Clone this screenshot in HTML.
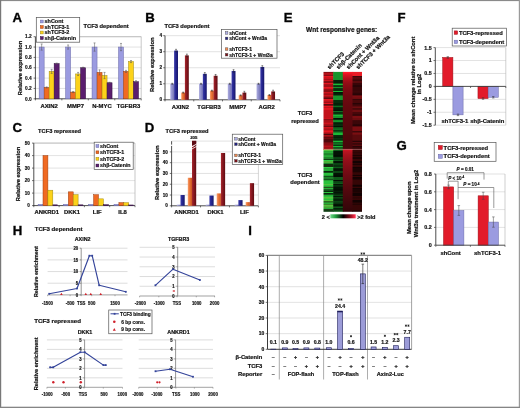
<!DOCTYPE html>
<html><head><meta charset="utf-8"><style>
html,body{margin:0;padding:0;background:#fff;}
body{width:520px;height:408px;overflow:hidden;}
svg{display:block;font-family:"Liberation Sans",sans-serif;will-change:transform;}
text{stroke:#111;}
</style></head><body>
<svg width="520" height="408" viewBox="0 0 520 408">
<rect x="0" y="0" width="520" height="408" fill="#fff"/>
<defs>
<linearGradient id="gLav" x1="0" x2="1" y1="0" y2="0"><stop offset="0" stop-color="#acacdf"/><stop offset="0.35" stop-color="#9898d2"/><stop offset="1" stop-color="#7070b2"/></linearGradient>
<linearGradient id="gNavy" x1="0" x2="1" y1="0" y2="0"><stop offset="0" stop-color="#3a3aa8"/><stop offset="0.35" stop-color="#2a2a96"/><stop offset="1" stop-color="#16166a"/></linearGradient>
<linearGradient id="gOra" x1="0" x2="1" y1="0" y2="0"><stop offset="0" stop-color="#f6a070"/><stop offset="0.35" stop-color="#ee7a3c"/><stop offset="1" stop-color="#c85420"/></linearGradient>
<linearGradient id="gDred" x1="0" x2="1" y1="0" y2="0"><stop offset="0" stop-color="#a82a30"/><stop offset="0.35" stop-color="#8e1a22"/><stop offset="1" stop-color="#5e0c12"/></linearGradient>
<linearGradient id="cbar" x1="0" x2="1"><stop offset="0" stop-color="#6fd98a"/><stop offset="0.2" stop-color="#22a040"/><stop offset="0.5" stop-color="#000"/><stop offset="0.8" stop-color="#a01020"/><stop offset="0.95" stop-color="#ff3050"/><stop offset="1" stop-color="#ffc0c8"/></linearGradient>
</defs>
<text x="12.60" y="21.70" font-size="13.2" text-anchor="start" font-weight="bold" fill="#000" stroke-width="0.35">A</text>
<text x="83.60" y="28.30" font-size="5.75" text-anchor="start" font-weight="bold" fill="#111" stroke-width="0.2">TCF3 dependent</text>
<line x1="35.40" y1="88.45" x2="141.20" y2="88.45" stroke="#cfcfcf" stroke-width="0.6"/>
<line x1="35.40" y1="78.10" x2="141.20" y2="78.10" stroke="#cfcfcf" stroke-width="0.6"/>
<line x1="35.40" y1="67.75" x2="141.20" y2="67.75" stroke="#cfcfcf" stroke-width="0.6"/>
<line x1="35.40" y1="57.40" x2="141.20" y2="57.40" stroke="#cfcfcf" stroke-width="0.6"/>
<line x1="35.40" y1="47.05" x2="141.20" y2="47.05" stroke="#cfcfcf" stroke-width="0.6"/>
<line x1="35.40" y1="36.70" x2="141.20" y2="36.70" stroke="#cfcfcf" stroke-width="0.6"/>
<line x1="141.20" y1="36.70" x2="141.20" y2="98.80" stroke="#b0b0b0" stroke-width="0.7"/>
<line x1="35.40" y1="36.70" x2="141.20" y2="36.70" stroke="#b0b0b0" stroke-width="0.7"/>
<line x1="35.40" y1="36.70" x2="35.40" y2="99.20" stroke="#3a3a3a" stroke-width="0.9"/>
<line x1="35.00" y1="98.80" x2="141.20" y2="98.80" stroke="#3a3a3a" stroke-width="0.9"/>
<line x1="33.60" y1="98.80" x2="35.40" y2="98.80" stroke="#3a3a3a" stroke-width="0.7"/>
<text x="31.70" y="100.53" font-size="4.8" text-anchor="end" font-weight="bold" fill="#111" stroke-width="0.16">0.0</text>
<line x1="33.60" y1="88.45" x2="35.40" y2="88.45" stroke="#3a3a3a" stroke-width="0.7"/>
<text x="31.70" y="90.18" font-size="4.8" text-anchor="end" font-weight="bold" fill="#111" stroke-width="0.16">0.2</text>
<line x1="33.60" y1="78.10" x2="35.40" y2="78.10" stroke="#3a3a3a" stroke-width="0.7"/>
<text x="31.70" y="79.83" font-size="4.8" text-anchor="end" font-weight="bold" fill="#111" stroke-width="0.16">0.4</text>
<line x1="33.60" y1="67.75" x2="35.40" y2="67.75" stroke="#3a3a3a" stroke-width="0.7"/>
<text x="31.70" y="69.48" font-size="4.8" text-anchor="end" font-weight="bold" fill="#111" stroke-width="0.16">0.6</text>
<line x1="33.60" y1="57.40" x2="35.40" y2="57.40" stroke="#3a3a3a" stroke-width="0.7"/>
<text x="31.70" y="59.13" font-size="4.8" text-anchor="end" font-weight="bold" fill="#111" stroke-width="0.16">0.8</text>
<line x1="33.60" y1="47.05" x2="35.40" y2="47.05" stroke="#3a3a3a" stroke-width="0.7"/>
<text x="31.70" y="48.78" font-size="4.8" text-anchor="end" font-weight="bold" fill="#111" stroke-width="0.16">1.0</text>
<line x1="33.60" y1="36.70" x2="35.40" y2="36.70" stroke="#3a3a3a" stroke-width="0.7"/>
<text x="31.70" y="38.43" font-size="4.8" text-anchor="end" font-weight="bold" fill="#111" stroke-width="0.16">1.2</text>
<line x1="35.40" y1="98.80" x2="35.40" y2="100.40" stroke="#3a3a3a" stroke-width="0.7"/>
<line x1="61.85" y1="98.80" x2="61.85" y2="100.40" stroke="#3a3a3a" stroke-width="0.7"/>
<line x1="88.30" y1="98.80" x2="88.30" y2="100.40" stroke="#3a3a3a" stroke-width="0.7"/>
<line x1="114.75" y1="98.80" x2="114.75" y2="100.40" stroke="#3a3a3a" stroke-width="0.7"/>
<line x1="141.20" y1="98.80" x2="141.20" y2="100.40" stroke="#3a3a3a" stroke-width="0.7"/>
<rect x="39.15" y="47.05" width="5.00" height="51.75" fill="#9b9be0" stroke="#6a6aa8" stroke-width="0.5"/>
<line x1="41.65" y1="50.15" x2="41.65" y2="43.95" stroke="#555" stroke-width="0.5"/>
<line x1="40.65" y1="43.95" x2="42.65" y2="43.95" stroke="#555" stroke-width="0.5"/>
<line x1="40.65" y1="50.15" x2="42.65" y2="50.15" stroke="#555" stroke-width="0.5"/>
<rect x="44.15" y="87.41" width="5.00" height="11.38" fill="#f06a22" stroke="#9a3c10" stroke-width="0.5"/>
<line x1="46.65" y1="87.93" x2="46.65" y2="86.90" stroke="#555" stroke-width="0.5"/>
<line x1="45.65" y1="86.90" x2="47.65" y2="86.90" stroke="#555" stroke-width="0.5"/>
<line x1="45.65" y1="87.93" x2="47.65" y2="87.93" stroke="#555" stroke-width="0.5"/>
<rect x="49.15" y="71.37" width="5.00" height="27.43" fill="#fcd21a" stroke="#a08a10" stroke-width="0.5"/>
<line x1="51.65" y1="73.44" x2="51.65" y2="69.30" stroke="#555" stroke-width="0.5"/>
<line x1="50.65" y1="69.30" x2="52.65" y2="69.30" stroke="#555" stroke-width="0.5"/>
<line x1="50.65" y1="73.44" x2="52.65" y2="73.44" stroke="#555" stroke-width="0.5"/>
<rect x="54.15" y="63.61" width="5.00" height="35.19" fill="#5a1d6e" stroke="#2e0a3a" stroke-width="0.5"/>
<line x1="56.65" y1="64.13" x2="56.65" y2="63.09" stroke="#555" stroke-width="0.5"/>
<line x1="55.65" y1="63.09" x2="57.65" y2="63.09" stroke="#555" stroke-width="0.5"/>
<line x1="55.65" y1="64.13" x2="57.65" y2="64.13" stroke="#555" stroke-width="0.5"/>
<rect x="65.60" y="47.05" width="5.00" height="51.75" fill="#9b9be0" stroke="#6a6aa8" stroke-width="0.5"/>
<line x1="68.10" y1="49.12" x2="68.10" y2="44.98" stroke="#555" stroke-width="0.5"/>
<line x1="67.10" y1="44.98" x2="69.10" y2="44.98" stroke="#555" stroke-width="0.5"/>
<line x1="67.10" y1="49.12" x2="69.10" y2="49.12" stroke="#555" stroke-width="0.5"/>
<rect x="70.60" y="92.07" width="5.00" height="6.73" fill="#f06a22" stroke="#9a3c10" stroke-width="0.5"/>
<line x1="73.10" y1="92.59" x2="73.10" y2="91.55" stroke="#555" stroke-width="0.5"/>
<line x1="72.10" y1="91.55" x2="74.10" y2="91.55" stroke="#555" stroke-width="0.5"/>
<line x1="72.10" y1="92.59" x2="74.10" y2="92.59" stroke="#555" stroke-width="0.5"/>
<rect x="75.60" y="73.96" width="5.00" height="24.84" fill="#fcd21a" stroke="#a08a10" stroke-width="0.5"/>
<line x1="78.10" y1="75.51" x2="78.10" y2="72.41" stroke="#555" stroke-width="0.5"/>
<line x1="77.10" y1="72.41" x2="79.10" y2="72.41" stroke="#555" stroke-width="0.5"/>
<line x1="77.10" y1="75.51" x2="79.10" y2="75.51" stroke="#555" stroke-width="0.5"/>
<rect x="80.60" y="67.75" width="5.00" height="31.05" fill="#5a1d6e" stroke="#2e0a3a" stroke-width="0.5"/>
<line x1="83.10" y1="68.27" x2="83.10" y2="67.23" stroke="#555" stroke-width="0.5"/>
<line x1="82.10" y1="67.23" x2="84.10" y2="67.23" stroke="#555" stroke-width="0.5"/>
<line x1="82.10" y1="68.27" x2="84.10" y2="68.27" stroke="#555" stroke-width="0.5"/>
<rect x="92.05" y="47.05" width="5.00" height="51.75" fill="#9b9be0" stroke="#6a6aa8" stroke-width="0.5"/>
<line x1="94.55" y1="51.19" x2="94.55" y2="42.91" stroke="#555" stroke-width="0.5"/>
<line x1="93.55" y1="42.91" x2="95.55" y2="42.91" stroke="#555" stroke-width="0.5"/>
<line x1="93.55" y1="51.19" x2="95.55" y2="51.19" stroke="#555" stroke-width="0.5"/>
<rect x="97.05" y="72.41" width="5.00" height="26.39" fill="#f06a22" stroke="#9a3c10" stroke-width="0.5"/>
<line x1="99.55" y1="75.00" x2="99.55" y2="69.82" stroke="#555" stroke-width="0.5"/>
<line x1="98.55" y1="69.82" x2="100.55" y2="69.82" stroke="#555" stroke-width="0.5"/>
<line x1="98.55" y1="75.00" x2="100.55" y2="75.00" stroke="#555" stroke-width="0.5"/>
<rect x="102.05" y="75.51" width="5.00" height="23.29" fill="#fcd21a" stroke="#a08a10" stroke-width="0.5"/>
<line x1="104.55" y1="78.62" x2="104.55" y2="72.41" stroke="#555" stroke-width="0.5"/>
<line x1="103.55" y1="72.41" x2="105.55" y2="72.41" stroke="#555" stroke-width="0.5"/>
<line x1="103.55" y1="78.62" x2="105.55" y2="78.62" stroke="#555" stroke-width="0.5"/>
<rect x="107.05" y="82.76" width="5.00" height="16.04" fill="#5a1d6e" stroke="#2e0a3a" stroke-width="0.5"/>
<line x1="109.55" y1="83.27" x2="109.55" y2="82.24" stroke="#555" stroke-width="0.5"/>
<line x1="108.55" y1="82.24" x2="110.55" y2="82.24" stroke="#555" stroke-width="0.5"/>
<line x1="108.55" y1="83.27" x2="110.55" y2="83.27" stroke="#555" stroke-width="0.5"/>
<rect x="118.50" y="47.05" width="5.00" height="51.75" fill="#9b9be0" stroke="#6a6aa8" stroke-width="0.5"/>
<line x1="121.00" y1="50.67" x2="121.00" y2="43.43" stroke="#555" stroke-width="0.5"/>
<line x1="120.00" y1="43.43" x2="122.00" y2="43.43" stroke="#555" stroke-width="0.5"/>
<line x1="120.00" y1="50.67" x2="122.00" y2="50.67" stroke="#555" stroke-width="0.5"/>
<rect x="123.50" y="71.37" width="5.00" height="27.43" fill="#f06a22" stroke="#9a3c10" stroke-width="0.5"/>
<line x1="126.00" y1="72.41" x2="126.00" y2="70.34" stroke="#555" stroke-width="0.5"/>
<line x1="125.00" y1="70.34" x2="127.00" y2="70.34" stroke="#555" stroke-width="0.5"/>
<line x1="125.00" y1="72.41" x2="127.00" y2="72.41" stroke="#555" stroke-width="0.5"/>
<rect x="128.50" y="61.54" width="5.00" height="37.26" fill="#fcd21a" stroke="#a08a10" stroke-width="0.5"/>
<line x1="131.00" y1="62.57" x2="131.00" y2="60.51" stroke="#555" stroke-width="0.5"/>
<line x1="130.00" y1="60.51" x2="132.00" y2="60.51" stroke="#555" stroke-width="0.5"/>
<line x1="130.00" y1="62.57" x2="132.00" y2="62.57" stroke="#555" stroke-width="0.5"/>
<rect x="133.50" y="81.72" width="5.00" height="17.08" fill="#5a1d6e" stroke="#2e0a3a" stroke-width="0.5"/>
<line x1="136.00" y1="82.76" x2="136.00" y2="80.69" stroke="#555" stroke-width="0.5"/>
<line x1="135.00" y1="80.69" x2="137.00" y2="80.69" stroke="#555" stroke-width="0.5"/>
<line x1="135.00" y1="82.76" x2="137.00" y2="82.76" stroke="#555" stroke-width="0.5"/>
<text x="49.12" y="108.20" font-size="5.9" text-anchor="middle" font-weight="bold" fill="#111" stroke-width="0.2">AXIN2</text>
<text x="75.57" y="108.20" font-size="5.9" text-anchor="middle" font-weight="bold" fill="#111" stroke-width="0.2">MMP7</text>
<text x="102.02" y="108.20" font-size="5.9" text-anchor="middle" font-weight="bold" fill="#111" stroke-width="0.2">N-MYC</text>
<text x="128.47" y="108.20" font-size="5.9" text-anchor="middle" font-weight="bold" fill="#111" stroke-width="0.2">TGFBR3</text>
<text x="21.70" y="68.00" font-size="5.8" text-anchor="middle" font-weight="bold" fill="#111" stroke-width="0.2" transform="rotate(-90 21.7 68)">Relative expression</text>
<rect x="36.30" y="17.60" width="43.40" height="24.60" fill="#fff" stroke="#555" stroke-width="0.7"/>
<rect x="40.40" y="20.10" width="2.80" height="2.80" fill="#9b9be0" stroke="#6a6aa8" stroke-width="0.5"/>
<text x="44.60" y="23.46" font-size="5.45" text-anchor="start" font-weight="bold" fill="#111" stroke-width="0.18">shCont</text>
<rect x="40.40" y="25.60" width="2.80" height="2.80" fill="#f06a22" stroke="#9a3c10" stroke-width="0.5"/>
<text x="44.60" y="28.96" font-size="5.45" text-anchor="start" font-weight="bold" fill="#111" stroke-width="0.18">shTCF3-1</text>
<rect x="40.40" y="31.10" width="2.80" height="2.80" fill="#fcd21a" stroke="#a08a10" stroke-width="0.5"/>
<text x="44.60" y="34.46" font-size="5.45" text-anchor="start" font-weight="bold" fill="#111" stroke-width="0.18">shTCF3-2</text>
<rect x="40.40" y="36.70" width="2.80" height="2.80" fill="#5a1d6e" stroke="#2e0a3a" stroke-width="0.5"/>
<text x="44.60" y="40.06" font-size="5.45" text-anchor="start" font-weight="bold" fill="#111" stroke-width="0.18">sh&#946;-Catenin</text>
<text x="145.30" y="21.80" font-size="13.2" text-anchor="start" font-weight="bold" fill="#000" stroke-width="0.35">B</text>
<text x="164.40" y="28.20" font-size="5.75" text-anchor="start" font-weight="bold" fill="#111" stroke-width="0.2">TCF3 dependent</text>
<line x1="165.00" y1="83.77" x2="280.00" y2="83.77" stroke="#cfcfcf" stroke-width="0.6"/>
<line x1="165.00" y1="67.74" x2="280.00" y2="67.74" stroke="#cfcfcf" stroke-width="0.6"/>
<line x1="165.00" y1="51.71" x2="280.00" y2="51.71" stroke="#cfcfcf" stroke-width="0.6"/>
<line x1="165.00" y1="35.68" x2="280.00" y2="35.68" stroke="#cfcfcf" stroke-width="0.6"/>
<line x1="165.00" y1="35.68" x2="165.00" y2="100.20" stroke="#3a3a3a" stroke-width="0.9"/>
<line x1="164.60" y1="99.80" x2="280.00" y2="99.80" stroke="#3a3a3a" stroke-width="0.9"/>
<line x1="163.20" y1="99.80" x2="165.00" y2="99.80" stroke="#3a3a3a" stroke-width="0.7"/>
<text x="162.00" y="101.49" font-size="4.7" text-anchor="end" font-weight="bold" fill="#111" stroke-width="0.16">0</text>
<line x1="163.20" y1="83.77" x2="165.00" y2="83.77" stroke="#3a3a3a" stroke-width="0.7"/>
<text x="162.00" y="85.46" font-size="4.7" text-anchor="end" font-weight="bold" fill="#111" stroke-width="0.16">1</text>
<line x1="163.20" y1="67.74" x2="165.00" y2="67.74" stroke="#3a3a3a" stroke-width="0.7"/>
<text x="162.00" y="69.43" font-size="4.7" text-anchor="end" font-weight="bold" fill="#111" stroke-width="0.16">2</text>
<line x1="163.20" y1="51.71" x2="165.00" y2="51.71" stroke="#3a3a3a" stroke-width="0.7"/>
<text x="162.00" y="53.40" font-size="4.7" text-anchor="end" font-weight="bold" fill="#111" stroke-width="0.16">3</text>
<line x1="163.20" y1="35.68" x2="165.00" y2="35.68" stroke="#3a3a3a" stroke-width="0.7"/>
<text x="162.00" y="37.37" font-size="4.7" text-anchor="end" font-weight="bold" fill="#111" stroke-width="0.16">4</text>
<line x1="165.00" y1="99.80" x2="165.00" y2="101.40" stroke="#3a3a3a" stroke-width="0.7"/>
<line x1="193.75" y1="99.80" x2="193.75" y2="101.40" stroke="#3a3a3a" stroke-width="0.7"/>
<line x1="222.50" y1="99.80" x2="222.50" y2="101.40" stroke="#3a3a3a" stroke-width="0.7"/>
<line x1="251.25" y1="99.80" x2="251.25" y2="101.40" stroke="#3a3a3a" stroke-width="0.7"/>
<line x1="280.00" y1="99.80" x2="280.00" y2="101.40" stroke="#3a3a3a" stroke-width="0.7"/>
<rect x="170.30" y="83.77" width="3.90" height="16.03" fill="url(#gLav)"/>
<line x1="172.25" y1="84.25" x2="172.25" y2="83.29" stroke="#222" stroke-width="0.5"/>
<line x1="171.35" y1="83.29" x2="173.15" y2="83.29" stroke="#222" stroke-width="0.5"/>
<line x1="171.35" y1="84.25" x2="173.15" y2="84.25" stroke="#222" stroke-width="0.5"/>
<rect x="174.10" y="50.59" width="3.90" height="49.21" fill="url(#gNavy)"/>
<line x1="176.05" y1="51.87" x2="176.05" y2="49.31" stroke="#222" stroke-width="0.5"/>
<line x1="175.15" y1="49.31" x2="176.95" y2="49.31" stroke="#222" stroke-width="0.5"/>
<line x1="175.15" y1="51.87" x2="176.95" y2="51.87" stroke="#222" stroke-width="0.5"/>
<rect x="181.20" y="92.59" width="3.90" height="7.21" fill="url(#gOra)"/>
<line x1="183.15" y1="93.07" x2="183.15" y2="92.11" stroke="#222" stroke-width="0.5"/>
<line x1="182.25" y1="92.11" x2="184.05" y2="92.11" stroke="#222" stroke-width="0.5"/>
<line x1="182.25" y1="93.07" x2="184.05" y2="93.07" stroke="#222" stroke-width="0.5"/>
<rect x="184.90" y="55.40" width="3.90" height="44.40" fill="url(#gDred)"/>
<line x1="186.85" y1="56.68" x2="186.85" y2="54.11" stroke="#222" stroke-width="0.5"/>
<line x1="185.95" y1="54.11" x2="187.75" y2="54.11" stroke="#222" stroke-width="0.5"/>
<line x1="185.95" y1="56.68" x2="187.75" y2="56.68" stroke="#222" stroke-width="0.5"/>
<rect x="199.05" y="83.77" width="3.90" height="16.03" fill="url(#gLav)"/>
<line x1="201.00" y1="84.25" x2="201.00" y2="83.29" stroke="#222" stroke-width="0.5"/>
<line x1="200.10" y1="83.29" x2="201.90" y2="83.29" stroke="#222" stroke-width="0.5"/>
<line x1="200.10" y1="84.25" x2="201.90" y2="84.25" stroke="#222" stroke-width="0.5"/>
<rect x="202.85" y="73.83" width="3.90" height="25.97" fill="url(#gNavy)"/>
<line x1="204.80" y1="75.11" x2="204.80" y2="72.55" stroke="#222" stroke-width="0.5"/>
<line x1="203.90" y1="72.55" x2="205.70" y2="72.55" stroke="#222" stroke-width="0.5"/>
<line x1="203.90" y1="75.11" x2="205.70" y2="75.11" stroke="#222" stroke-width="0.5"/>
<rect x="209.95" y="90.66" width="3.90" height="9.14" fill="url(#gOra)"/>
<line x1="211.90" y1="91.14" x2="211.90" y2="90.18" stroke="#222" stroke-width="0.5"/>
<line x1="211.00" y1="90.18" x2="212.80" y2="90.18" stroke="#222" stroke-width="0.5"/>
<line x1="211.00" y1="91.14" x2="212.80" y2="91.14" stroke="#222" stroke-width="0.5"/>
<rect x="213.65" y="75.75" width="3.90" height="24.05" fill="url(#gDred)"/>
<line x1="215.60" y1="77.04" x2="215.60" y2="74.47" stroke="#222" stroke-width="0.5"/>
<line x1="214.70" y1="74.47" x2="216.50" y2="74.47" stroke="#222" stroke-width="0.5"/>
<line x1="214.70" y1="77.04" x2="216.50" y2="77.04" stroke="#222" stroke-width="0.5"/>
<rect x="227.80" y="83.77" width="3.90" height="16.03" fill="url(#gLav)"/>
<line x1="229.75" y1="84.25" x2="229.75" y2="83.29" stroke="#222" stroke-width="0.5"/>
<line x1="228.85" y1="83.29" x2="230.65" y2="83.29" stroke="#222" stroke-width="0.5"/>
<line x1="228.85" y1="84.25" x2="230.65" y2="84.25" stroke="#222" stroke-width="0.5"/>
<rect x="231.60" y="70.95" width="3.90" height="28.85" fill="url(#gNavy)"/>
<line x1="233.55" y1="72.23" x2="233.55" y2="69.66" stroke="#222" stroke-width="0.5"/>
<line x1="232.65" y1="69.66" x2="234.45" y2="69.66" stroke="#222" stroke-width="0.5"/>
<line x1="232.65" y1="72.23" x2="234.45" y2="72.23" stroke="#222" stroke-width="0.5"/>
<rect x="238.70" y="95.31" width="3.90" height="4.49" fill="url(#gOra)"/>
<line x1="240.65" y1="95.79" x2="240.65" y2="94.83" stroke="#222" stroke-width="0.5"/>
<line x1="239.75" y1="94.83" x2="241.55" y2="94.83" stroke="#222" stroke-width="0.5"/>
<line x1="239.75" y1="95.79" x2="241.55" y2="95.79" stroke="#222" stroke-width="0.5"/>
<rect x="242.40" y="92.59" width="3.90" height="7.21" fill="url(#gDred)"/>
<line x1="244.35" y1="93.87" x2="244.35" y2="91.30" stroke="#222" stroke-width="0.5"/>
<line x1="243.45" y1="91.30" x2="245.25" y2="91.30" stroke="#222" stroke-width="0.5"/>
<line x1="243.45" y1="93.87" x2="245.25" y2="93.87" stroke="#222" stroke-width="0.5"/>
<rect x="256.55" y="83.77" width="3.90" height="16.03" fill="url(#gLav)"/>
<line x1="258.50" y1="84.25" x2="258.50" y2="83.29" stroke="#222" stroke-width="0.5"/>
<line x1="257.60" y1="83.29" x2="259.40" y2="83.29" stroke="#222" stroke-width="0.5"/>
<line x1="257.60" y1="84.25" x2="259.40" y2="84.25" stroke="#222" stroke-width="0.5"/>
<rect x="260.35" y="66.94" width="3.90" height="32.86" fill="url(#gNavy)"/>
<line x1="262.30" y1="68.22" x2="262.30" y2="65.66" stroke="#222" stroke-width="0.5"/>
<line x1="261.40" y1="65.66" x2="263.20" y2="65.66" stroke="#222" stroke-width="0.5"/>
<line x1="261.40" y1="68.22" x2="263.20" y2="68.22" stroke="#222" stroke-width="0.5"/>
<rect x="267.45" y="94.99" width="3.90" height="4.81" fill="url(#gOra)"/>
<line x1="269.40" y1="95.47" x2="269.40" y2="94.51" stroke="#222" stroke-width="0.5"/>
<line x1="268.50" y1="94.51" x2="270.30" y2="94.51" stroke="#222" stroke-width="0.5"/>
<line x1="268.50" y1="95.47" x2="270.30" y2="95.47" stroke="#222" stroke-width="0.5"/>
<rect x="271.15" y="91.46" width="3.90" height="8.34" fill="url(#gDred)"/>
<line x1="273.10" y1="92.75" x2="273.10" y2="90.18" stroke="#222" stroke-width="0.5"/>
<line x1="272.20" y1="90.18" x2="274.00" y2="90.18" stroke="#222" stroke-width="0.5"/>
<line x1="272.20" y1="92.75" x2="274.00" y2="92.75" stroke="#222" stroke-width="0.5"/>
<text x="180.38" y="108.60" font-size="5.9" text-anchor="middle" font-weight="bold" fill="#111" stroke-width="0.2">AXIN2</text>
<text x="209.12" y="108.60" font-size="5.9" text-anchor="middle" font-weight="bold" fill="#111" stroke-width="0.2">TGFBR3</text>
<text x="237.88" y="108.60" font-size="5.9" text-anchor="middle" font-weight="bold" fill="#111" stroke-width="0.2">MMP7</text>
<text x="266.62" y="108.60" font-size="5.9" text-anchor="middle" font-weight="bold" fill="#111" stroke-width="0.2">AGR2</text>
<text x="154.30" y="64.70" font-size="5.8" text-anchor="middle" font-weight="bold" fill="#111" stroke-width="0.2" transform="rotate(-90 154.3 64.7)">Relative expression</text>
<rect x="221.50" y="29.50" width="55.50" height="28.70" fill="#fff" stroke="#555" stroke-width="0.7"/>
<rect x="225.30" y="31.60" width="2.60" height="2.60" fill="#b0b0e6" stroke="#444" stroke-width="0.4"/>
<text x="229.20" y="34.70" font-size="5.0" text-anchor="start" font-weight="bold" fill="#111" stroke-width="0.18">shCont</text>
<rect x="225.30" y="37.10" width="2.60" height="2.60" fill="#22227e" stroke="#444" stroke-width="0.4"/>
<text x="229.20" y="40.20" font-size="5.0" text-anchor="start" font-weight="bold" fill="#111" stroke-width="0.18">shCont + Wnt3a</text>
<rect x="225.30" y="47.80" width="2.60" height="2.60" fill="#f08a50" stroke="#444" stroke-width="0.4"/>
<text x="229.20" y="50.90" font-size="5.0" text-anchor="start" font-weight="bold" fill="#111" stroke-width="0.18">shTCF3-1</text>
<rect x="225.30" y="53.40" width="2.60" height="2.60" fill="#7a1018" stroke="#444" stroke-width="0.4"/>
<text x="229.20" y="56.50" font-size="5.0" text-anchor="start" font-weight="bold" fill="#111" stroke-width="0.18">shTCF3-1 + Wnt3a</text>
<text x="12.40" y="132.20" font-size="13.2" text-anchor="start" font-weight="bold" fill="#000" stroke-width="0.35">C</text>
<text x="38.10" y="132.90" font-size="5.7" text-anchor="start" font-weight="bold" fill="#111" stroke-width="0.2">TCF3 repressed</text>
<line x1="33.80" y1="193.10" x2="135.00" y2="193.10" stroke="#cfcfcf" stroke-width="0.6"/>
<line x1="33.80" y1="180.60" x2="135.00" y2="180.60" stroke="#cfcfcf" stroke-width="0.6"/>
<line x1="33.80" y1="168.10" x2="135.00" y2="168.10" stroke="#cfcfcf" stroke-width="0.6"/>
<line x1="33.80" y1="155.60" x2="135.00" y2="155.60" stroke="#cfcfcf" stroke-width="0.6"/>
<line x1="33.80" y1="143.10" x2="135.00" y2="143.10" stroke="#cfcfcf" stroke-width="0.6"/>
<line x1="135.00" y1="143.10" x2="135.00" y2="205.60" stroke="#b0b0b0" stroke-width="0.7"/>
<line x1="33.80" y1="143.10" x2="135.00" y2="143.10" stroke="#b0b0b0" stroke-width="0.7"/>
<line x1="33.80" y1="143.10" x2="33.80" y2="206.00" stroke="#3a3a3a" stroke-width="0.9"/>
<line x1="33.40" y1="205.60" x2="135.00" y2="205.60" stroke="#3a3a3a" stroke-width="0.9"/>
<line x1="32.00" y1="205.60" x2="33.80" y2="205.60" stroke="#3a3a3a" stroke-width="0.7"/>
<text x="29.80" y="207.26" font-size="4.6" text-anchor="end" font-weight="bold" fill="#111" stroke-width="0.16">0</text>
<line x1="32.00" y1="193.10" x2="33.80" y2="193.10" stroke="#3a3a3a" stroke-width="0.7"/>
<text x="29.80" y="194.76" font-size="4.6" text-anchor="end" font-weight="bold" fill="#111" stroke-width="0.16">10</text>
<line x1="32.00" y1="180.60" x2="33.80" y2="180.60" stroke="#3a3a3a" stroke-width="0.7"/>
<text x="29.80" y="182.26" font-size="4.6" text-anchor="end" font-weight="bold" fill="#111" stroke-width="0.16">20</text>
<line x1="32.00" y1="168.10" x2="33.80" y2="168.10" stroke="#3a3a3a" stroke-width="0.7"/>
<text x="29.80" y="169.76" font-size="4.6" text-anchor="end" font-weight="bold" fill="#111" stroke-width="0.16">30</text>
<line x1="32.00" y1="155.60" x2="33.80" y2="155.60" stroke="#3a3a3a" stroke-width="0.7"/>
<text x="29.80" y="157.26" font-size="4.6" text-anchor="end" font-weight="bold" fill="#111" stroke-width="0.16">40</text>
<line x1="32.00" y1="143.10" x2="33.80" y2="143.10" stroke="#3a3a3a" stroke-width="0.7"/>
<text x="29.80" y="144.76" font-size="4.6" text-anchor="end" font-weight="bold" fill="#111" stroke-width="0.16">50</text>
<line x1="33.80" y1="205.60" x2="33.80" y2="207.20" stroke="#3a3a3a" stroke-width="0.7"/>
<line x1="59.10" y1="205.60" x2="59.10" y2="207.20" stroke="#3a3a3a" stroke-width="0.7"/>
<line x1="84.40" y1="205.60" x2="84.40" y2="207.20" stroke="#3a3a3a" stroke-width="0.7"/>
<line x1="109.70" y1="205.60" x2="109.70" y2="207.20" stroke="#3a3a3a" stroke-width="0.7"/>
<line x1="135.00" y1="205.60" x2="135.00" y2="207.20" stroke="#3a3a3a" stroke-width="0.7"/>
<rect x="38.10" y="204.35" width="4.90" height="1.25" fill="#9b9be0" stroke="#6a6aa8" stroke-width="0.5"/>
<rect x="43.00" y="155.60" width="4.90" height="50.00" fill="#f06a22" stroke="#9a3c10" stroke-width="0.5"/>
<rect x="47.90" y="190.22" width="4.90" height="15.38" fill="#fcd21a" stroke="#a08a10" stroke-width="0.5"/>
<rect x="52.80" y="204.85" width="4.90" height="0.75" fill="#5a1d6e" stroke="#2e0a3a" stroke-width="0.5"/>
<rect x="63.40" y="204.35" width="4.90" height="1.25" fill="#9b9be0" stroke="#6a6aa8" stroke-width="0.5"/>
<rect x="68.30" y="191.85" width="4.90" height="13.75" fill="#f06a22" stroke="#9a3c10" stroke-width="0.5"/>
<rect x="73.20" y="194.72" width="4.90" height="10.88" fill="#fcd21a" stroke="#a08a10" stroke-width="0.5"/>
<rect x="78.10" y="204.85" width="4.90" height="0.75" fill="#5a1d6e" stroke="#2e0a3a" stroke-width="0.5"/>
<rect x="88.70" y="204.35" width="4.90" height="1.25" fill="#9b9be0" stroke="#6a6aa8" stroke-width="0.5"/>
<rect x="93.60" y="194.72" width="4.90" height="10.88" fill="#f06a22" stroke="#9a3c10" stroke-width="0.5"/>
<rect x="98.50" y="198.85" width="4.90" height="6.75" fill="#fcd21a" stroke="#a08a10" stroke-width="0.5"/>
<rect x="103.40" y="204.72" width="4.90" height="0.88" fill="#5a1d6e" stroke="#2e0a3a" stroke-width="0.5"/>
<rect x="114.00" y="204.35" width="4.90" height="1.25" fill="#9b9be0" stroke="#6a6aa8" stroke-width="0.5"/>
<rect x="118.90" y="202.60" width="4.90" height="3.00" fill="#f06a22" stroke="#9a3c10" stroke-width="0.5"/>
<rect x="123.80" y="202.72" width="4.90" height="2.88" fill="#fcd21a" stroke="#a08a10" stroke-width="0.5"/>
<rect x="128.70" y="204.97" width="4.90" height="0.62" fill="#5a1d6e" stroke="#2e0a3a" stroke-width="0.5"/>
<text x="46.65" y="214.10" font-size="5.9" text-anchor="middle" font-weight="bold" fill="#111" stroke-width="0.2">ANKRD1</text>
<text x="71.95" y="214.10" font-size="5.9" text-anchor="middle" font-weight="bold" fill="#111" stroke-width="0.2">DKK1</text>
<text x="97.25" y="214.10" font-size="5.9" text-anchor="middle" font-weight="bold" fill="#111" stroke-width="0.2">LIF</text>
<text x="122.55" y="214.10" font-size="5.9" text-anchor="middle" font-weight="bold" fill="#111" stroke-width="0.2">IL8</text>
<text x="19.80" y="174.00" font-size="5.8" text-anchor="middle" font-weight="bold" fill="#111" stroke-width="0.2" transform="rotate(-90 19.8 174)">Relative expression</text>
<rect x="94.20" y="142.20" width="39.00" height="27.40" fill="#fff" stroke="#555" stroke-width="0.7"/>
<rect x="96.00" y="144.70" width="2.80" height="2.80" fill="#9b9be0" stroke="#6a6aa8" stroke-width="0.5"/>
<text x="100.00" y="148.01" font-size="5.3" text-anchor="start" font-weight="bold" fill="#111" stroke-width="0.18">shCont</text>
<rect x="96.00" y="150.90" width="2.80" height="2.80" fill="#f06a22" stroke="#9a3c10" stroke-width="0.5"/>
<text x="100.00" y="154.21" font-size="5.3" text-anchor="start" font-weight="bold" fill="#111" stroke-width="0.18">shTCF3-1</text>
<rect x="96.00" y="157.40" width="2.80" height="2.80" fill="#fcd21a" stroke="#a08a10" stroke-width="0.5"/>
<text x="100.00" y="160.71" font-size="5.3" text-anchor="start" font-weight="bold" fill="#111" stroke-width="0.18">shTCF3-2</text>
<rect x="96.00" y="164.10" width="2.80" height="2.80" fill="#5a1d6e" stroke="#2e0a3a" stroke-width="0.5"/>
<text x="100.00" y="167.41" font-size="5.3" text-anchor="start" font-weight="bold" fill="#111" stroke-width="0.18">sh&#946;-Catenin</text>
<text x="144.80" y="132.10" font-size="13.2" text-anchor="start" font-weight="bold" fill="#000" stroke-width="0.35">D</text>
<text x="165.60" y="132.60" font-size="5.7" text-anchor="start" font-weight="bold" fill="#111" stroke-width="0.2">TCF3 repressed</text>
<line x1="171.60" y1="195.02" x2="258.40" y2="195.02" stroke="#cfcfcf" stroke-width="0.6"/>
<line x1="171.60" y1="184.24" x2="258.40" y2="184.24" stroke="#cfcfcf" stroke-width="0.6"/>
<line x1="171.60" y1="173.46" x2="258.40" y2="173.46" stroke="#cfcfcf" stroke-width="0.6"/>
<line x1="171.60" y1="162.68" x2="258.40" y2="162.68" stroke="#cfcfcf" stroke-width="0.6"/>
<line x1="171.60" y1="151.90" x2="258.40" y2="151.90" stroke="#cfcfcf" stroke-width="0.6"/>
<line x1="171.60" y1="141.10" x2="171.60" y2="206.20" stroke="#3a3a3a" stroke-width="0.9"/>
<line x1="171.20" y1="205.80" x2="258.40" y2="205.80" stroke="#3a3a3a" stroke-width="0.9"/>
<line x1="169.80" y1="205.80" x2="171.60" y2="205.80" stroke="#3a3a3a" stroke-width="0.7"/>
<text x="167.80" y="207.46" font-size="4.6" text-anchor="end" font-weight="bold" fill="#111" stroke-width="0.16">0</text>
<line x1="169.80" y1="195.02" x2="171.60" y2="195.02" stroke="#3a3a3a" stroke-width="0.7"/>
<text x="167.80" y="196.68" font-size="4.6" text-anchor="end" font-weight="bold" fill="#111" stroke-width="0.16">10</text>
<line x1="169.80" y1="184.24" x2="171.60" y2="184.24" stroke="#3a3a3a" stroke-width="0.7"/>
<text x="167.80" y="185.90" font-size="4.6" text-anchor="end" font-weight="bold" fill="#111" stroke-width="0.16">20</text>
<line x1="169.80" y1="173.46" x2="171.60" y2="173.46" stroke="#3a3a3a" stroke-width="0.7"/>
<text x="167.80" y="175.12" font-size="4.6" text-anchor="end" font-weight="bold" fill="#111" stroke-width="0.16">30</text>
<line x1="169.80" y1="162.68" x2="171.60" y2="162.68" stroke="#3a3a3a" stroke-width="0.7"/>
<text x="167.80" y="164.34" font-size="4.6" text-anchor="end" font-weight="bold" fill="#111" stroke-width="0.16">40</text>
<line x1="169.80" y1="151.90" x2="171.60" y2="151.90" stroke="#3a3a3a" stroke-width="0.7"/>
<text x="167.80" y="153.56" font-size="4.6" text-anchor="end" font-weight="bold" fill="#111" stroke-width="0.16">50</text>
<line x1="171.60" y1="205.80" x2="171.60" y2="207.40" stroke="#3a3a3a" stroke-width="0.7"/>
<line x1="200.53" y1="205.80" x2="200.53" y2="207.40" stroke="#3a3a3a" stroke-width="0.7"/>
<line x1="229.47" y1="205.80" x2="229.47" y2="207.40" stroke="#3a3a3a" stroke-width="0.7"/>
<line x1="258.40" y1="205.80" x2="258.40" y2="207.40" stroke="#3a3a3a" stroke-width="0.7"/>
<line x1="171.60" y1="141.10" x2="258.40" y2="141.10" stroke="#cfcfcf" stroke-width="0.6"/>
<rect x="170.40" y="144.60" width="2.40" height="1.30" fill="#fff"/>
<line x1="258.40" y1="141.00" x2="258.40" y2="205.80" stroke="#b8b8b8" stroke-width="0.6"/>
<rect x="176.80" y="204.72" width="3.70" height="1.08" fill="url(#gLav)"/>
<rect x="180.50" y="195.02" width="4.20" height="10.78" fill="url(#gNavy)"/>
<rect x="187.80" y="177.77" width="4.20" height="28.03" fill="url(#gOra)"/>
<rect x="192.00" y="140.80" width="4.20" height="65.00" fill="url(#gDred)"/>
<rect x="205.73" y="204.72" width="3.70" height="1.08" fill="url(#gLav)"/>
<rect x="209.43" y="195.56" width="4.20" height="10.24" fill="url(#gNavy)"/>
<rect x="216.73" y="193.40" width="4.20" height="12.40" fill="url(#gOra)"/>
<rect x="220.93" y="152.98" width="4.20" height="52.82" fill="url(#gDred)"/>
<rect x="234.67" y="204.72" width="3.70" height="1.08" fill="url(#gLav)"/>
<rect x="238.37" y="200.09" width="4.20" height="5.71" fill="url(#gNavy)"/>
<rect x="245.67" y="202.13" width="4.20" height="3.67" fill="url(#gOra)"/>
<rect x="249.87" y="183.16" width="4.20" height="22.64" fill="url(#gDred)"/>
<path d="M191.40 147.0 L196.80 143.9 M191.40 149.3 L196.80 146.2" stroke="#fff" stroke-width="0.8" fill="none"/>
<rect x="192.00" y="140.90" width="4.20" height="4.50" fill="#5e0c14"/>
<path d="M191.40 147.0 L196.80 143.9" stroke="#fff" stroke-width="0.8" fill="none"/>
<text x="193.80" y="138.90" font-size="4.3" text-anchor="middle" font-weight="bold" fill="#111" stroke-width="0.16">205</text>
<text x="186.57" y="213.80" font-size="5.9" text-anchor="middle" font-weight="bold" fill="#111" stroke-width="0.2">ANKRD1</text>
<text x="215.50" y="213.80" font-size="5.9" text-anchor="middle" font-weight="bold" fill="#111" stroke-width="0.2">DKK1</text>
<text x="244.43" y="213.80" font-size="5.9" text-anchor="middle" font-weight="bold" fill="#111" stroke-width="0.2">LIF</text>
<text x="158.80" y="172.70" font-size="5.8" text-anchor="middle" font-weight="bold" fill="#111" stroke-width="0.2" transform="rotate(-90 158.8 172.7)">Relative expression</text>
<rect x="232.30" y="134.20" width="50.40" height="30.20" fill="#fff" stroke="#555" stroke-width="0.7"/>
<rect x="234.60" y="137.50" width="2.60" height="2.60" fill="#b0b0e6" stroke="#444" stroke-width="0.4"/>
<text x="238.20" y="140.60" font-size="5.0" text-anchor="start" font-weight="bold" fill="#111" stroke-width="0.18">shCont</text>
<rect x="234.60" y="142.90" width="2.60" height="2.60" fill="#22227e" stroke="#444" stroke-width="0.4"/>
<text x="238.20" y="146.00" font-size="5.0" text-anchor="start" font-weight="bold" fill="#111" stroke-width="0.18">shCont + Wnt3a</text>
<rect x="234.60" y="154.10" width="2.60" height="2.60" fill="#f08a50" stroke="#444" stroke-width="0.4"/>
<text x="238.20" y="157.20" font-size="5.0" text-anchor="start" font-weight="bold" fill="#111" stroke-width="0.18">shTCF3-1</text>
<rect x="234.60" y="159.50" width="2.60" height="2.60" fill="#7a1018" stroke="#444" stroke-width="0.4"/>
<text x="238.20" y="162.60" font-size="5.0" text-anchor="start" font-weight="bold" fill="#111" stroke-width="0.18">shTCF3-1 + Wnt3a</text>
<text x="283.80" y="21.80" font-size="13.2" text-anchor="start" font-weight="bold" fill="#000" stroke-width="0.35">E</text>
<text x="306.10" y="32.30" font-size="6.5" text-anchor="start" font-weight="bold" fill="#111" stroke-width="0.2">Wnt responsive genes:</text>
<defs><linearGradient id="hm1" x1="0" x2="0" y1="0" y2="1"><stop offset="0.0021" stop-color="#8a0d13"/><stop offset="0.0152" stop-color="#8a0d13"/><stop offset="0.0193" stop-color="#b81119"/><stop offset="0.0324" stop-color="#b81119"/><stop offset="0.0366" stop-color="#8a0d13"/><stop offset="0.0497" stop-color="#8a0d13"/><stop offset="0.0538" stop-color="#e61620"/><stop offset="0.0669" stop-color="#e61620"/><stop offset="0.0710" stop-color="#cf131c"/><stop offset="0.0841" stop-color="#cf131c"/><stop offset="0.0883" stop-color="#ac1018"/><stop offset="0.1014" stop-color="#ac1018"/><stop offset="0.1055" stop-color="#cf131c"/><stop offset="0.1186" stop-color="#cf131c"/><stop offset="0.1228" stop-color="#8a0d13"/><stop offset="0.1359" stop-color="#8a0d13"/><stop offset="0.1400" stop-color="#e61620"/><stop offset="0.1531" stop-color="#e61620"/><stop offset="0.1572" stop-color="#ac1018"/><stop offset="0.1703" stop-color="#ac1018"/><stop offset="0.1745" stop-color="#a10f16"/><stop offset="0.1876" stop-color="#a10f16"/><stop offset="0.1917" stop-color="#e61620"/><stop offset="0.2048" stop-color="#e61620"/><stop offset="0.2090" stop-color="#cf131c"/><stop offset="0.2221" stop-color="#cf131c"/><stop offset="0.2262" stop-color="#8a0d13"/><stop offset="0.2393" stop-color="#8a0d13"/><stop offset="0.2434" stop-color="#8a0d13"/><stop offset="0.2566" stop-color="#8a0d13"/><stop offset="0.2607" stop-color="#cf131c"/><stop offset="0.2738" stop-color="#cf131c"/><stop offset="0.2779" stop-color="#a10f16"/><stop offset="0.2910" stop-color="#a10f16"/><stop offset="0.2952" stop-color="#cf131c"/><stop offset="0.3083" stop-color="#cf131c"/><stop offset="0.3124" stop-color="#ac1018"/><stop offset="0.3255" stop-color="#ac1018"/><stop offset="0.3297" stop-color="#60090d"/><stop offset="0.3428" stop-color="#60090d"/><stop offset="0.3469" stop-color="#e61620"/><stop offset="0.3600" stop-color="#e61620"/><stop offset="0.3641" stop-color="#cf131c"/><stop offset="0.3772" stop-color="#cf131c"/><stop offset="0.3814" stop-color="#a10f16"/><stop offset="0.3945" stop-color="#a10f16"/><stop offset="0.3986" stop-color="#e61620"/><stop offset="0.4117" stop-color="#e61620"/><stop offset="0.4159" stop-color="#60090d"/><stop offset="0.4290" stop-color="#60090d"/><stop offset="0.4331" stop-color="#e61620"/><stop offset="0.4462" stop-color="#e61620"/><stop offset="0.4503" stop-color="#c3121b"/><stop offset="0.4634" stop-color="#c3121b"/><stop offset="0.4676" stop-color="#e61620"/><stop offset="0.4807" stop-color="#e61620"/><stop offset="0.4848" stop-color="#c3121b"/><stop offset="0.4979" stop-color="#c3121b"/><stop offset="0.5021" stop-color="#c3121b"/><stop offset="0.5152" stop-color="#c3121b"/><stop offset="0.5193" stop-color="#c3121b"/><stop offset="0.5324" stop-color="#c3121b"/><stop offset="0.5366" stop-color="#c3121b"/><stop offset="0.5497" stop-color="#c3121b"/><stop offset="0.5538" stop-color="#c3121b"/><stop offset="0.5669" stop-color="#c3121b"/><stop offset="0.5710" stop-color="#c3121b"/><stop offset="0.5841" stop-color="#c3121b"/><stop offset="0.5883" stop-color="#cf131c"/><stop offset="0.6014" stop-color="#cf131c"/><stop offset="0.6055" stop-color="#8a0d13"/><stop offset="0.6186" stop-color="#8a0d13"/><stop offset="0.6228" stop-color="#ac1018"/><stop offset="0.6359" stop-color="#ac1018"/><stop offset="0.6400" stop-color="#b81119"/><stop offset="0.6531" stop-color="#b81119"/><stop offset="0.6572" stop-color="#cf131c"/><stop offset="0.6703" stop-color="#cf131c"/><stop offset="0.6745" stop-color="#a10f16"/><stop offset="0.6876" stop-color="#a10f16"/><stop offset="0.6917" stop-color="#730b10"/><stop offset="0.7048" stop-color="#730b10"/><stop offset="0.7090" stop-color="#cf131c"/><stop offset="0.7221" stop-color="#cf131c"/><stop offset="0.7262" stop-color="#ac1018"/><stop offset="0.7393" stop-color="#ac1018"/><stop offset="0.7434" stop-color="#cf131c"/><stop offset="0.7566" stop-color="#cf131c"/><stop offset="0.7607" stop-color="#e61620"/><stop offset="0.7738" stop-color="#e61620"/><stop offset="0.7779" stop-color="#a10f16"/><stop offset="0.7910" stop-color="#a10f16"/><stop offset="0.7952" stop-color="#50070b"/><stop offset="0.8083" stop-color="#50070b"/><stop offset="0.8124" stop-color="#ac1018"/><stop offset="0.8255" stop-color="#ac1018"/><stop offset="0.8297" stop-color="#60090d"/><stop offset="0.8428" stop-color="#60090d"/><stop offset="0.8469" stop-color="#730b10"/><stop offset="0.8600" stop-color="#730b10"/><stop offset="0.8641" stop-color="#50070b"/><stop offset="0.8772" stop-color="#50070b"/><stop offset="0.8814" stop-color="#50070b"/><stop offset="0.8945" stop-color="#50070b"/><stop offset="0.8986" stop-color="#730b10"/><stop offset="0.9117" stop-color="#730b10"/><stop offset="0.9159" stop-color="#8a0d13"/><stop offset="0.9290" stop-color="#8a0d13"/><stop offset="0.9331" stop-color="#a10f16"/><stop offset="0.9462" stop-color="#a10f16"/><stop offset="0.9503" stop-color="#b81119"/><stop offset="0.9634" stop-color="#b81119"/><stop offset="0.9676" stop-color="#a10f16"/><stop offset="0.9807" stop-color="#a10f16"/><stop offset="0.9848" stop-color="#cf131c"/><stop offset="0.9979" stop-color="#cf131c"/></linearGradient></defs>
<rect x="323.50" y="71.90" width="10.30" height="78.10" fill="url(#hm1)"/>
<defs><linearGradient id="hm2" x1="0" x2="0" y1="0" y2="1"><stop offset="0.0021" stop-color="#16942c"/><stop offset="0.0152" stop-color="#16942c"/><stop offset="0.0193" stop-color="#16942c"/><stop offset="0.0324" stop-color="#16942c"/><stop offset="0.0366" stop-color="#16942c"/><stop offset="0.0497" stop-color="#16942c"/><stop offset="0.0538" stop-color="#16942c"/><stop offset="0.0669" stop-color="#16942c"/><stop offset="0.0710" stop-color="#16942c"/><stop offset="0.0841" stop-color="#16942c"/><stop offset="0.0883" stop-color="#16942c"/><stop offset="0.1014" stop-color="#16942c"/><stop offset="0.1055" stop-color="#052109"/><stop offset="0.1186" stop-color="#052109"/><stop offset="0.1228" stop-color="#052109"/><stop offset="0.1359" stop-color="#052109"/><stop offset="0.1400" stop-color="#0e5c1b"/><stop offset="0.1531" stop-color="#0e5c1b"/><stop offset="0.1572" stop-color="#1cb937"/><stop offset="0.1703" stop-color="#1cb937"/><stop offset="0.1745" stop-color="#083710"/><stop offset="0.1876" stop-color="#083710"/><stop offset="0.1917" stop-color="#16942c"/><stop offset="0.2048" stop-color="#16942c"/><stop offset="0.2090" stop-color="#083710"/><stop offset="0.2221" stop-color="#083710"/><stop offset="0.2262" stop-color="#072e0d"/><stop offset="0.2393" stop-color="#072e0d"/><stop offset="0.2434" stop-color="#1cb937"/><stop offset="0.2566" stop-color="#1cb937"/><stop offset="0.2607" stop-color="#021205"/><stop offset="0.2738" stop-color="#021205"/><stop offset="0.2779" stop-color="#052109"/><stop offset="0.2910" stop-color="#052109"/><stop offset="0.2952" stop-color="#0e5c1b"/><stop offset="0.3083" stop-color="#0e5c1b"/><stop offset="0.3124" stop-color="#16942c"/><stop offset="0.3255" stop-color="#16942c"/><stop offset="0.3297" stop-color="#16942c"/><stop offset="0.3428" stop-color="#16942c"/><stop offset="0.3469" stop-color="#16942c"/><stop offset="0.3600" stop-color="#16942c"/><stop offset="0.3641" stop-color="#072e0d"/><stop offset="0.3772" stop-color="#072e0d"/><stop offset="0.3814" stop-color="#072e0d"/><stop offset="0.3945" stop-color="#072e0d"/><stop offset="0.3986" stop-color="#052109"/><stop offset="0.4117" stop-color="#052109"/><stop offset="0.4159" stop-color="#052109"/><stop offset="0.4290" stop-color="#052109"/><stop offset="0.4331" stop-color="#106f21"/><stop offset="0.4462" stop-color="#106f21"/><stop offset="0.4503" stop-color="#072e0d"/><stop offset="0.4634" stop-color="#072e0d"/><stop offset="0.4676" stop-color="#052109"/><stop offset="0.4807" stop-color="#052109"/><stop offset="0.4848" stop-color="#021205"/><stop offset="0.4979" stop-color="#021205"/><stop offset="0.5021" stop-color="#106f21"/><stop offset="0.5152" stop-color="#106f21"/><stop offset="0.5193" stop-color="#072e0d"/><stop offset="0.5324" stop-color="#072e0d"/><stop offset="0.5366" stop-color="#106f21"/><stop offset="0.5497" stop-color="#106f21"/><stop offset="0.5538" stop-color="#1cb937"/><stop offset="0.5669" stop-color="#1cb937"/><stop offset="0.5710" stop-color="#16942c"/><stop offset="0.5841" stop-color="#16942c"/><stop offset="0.5883" stop-color="#021205"/><stop offset="0.6014" stop-color="#021205"/><stop offset="0.6055" stop-color="#072e0d"/><stop offset="0.6186" stop-color="#072e0d"/><stop offset="0.6228" stop-color="#16942c"/><stop offset="0.6359" stop-color="#16942c"/><stop offset="0.6400" stop-color="#083710"/><stop offset="0.6531" stop-color="#083710"/><stop offset="0.6572" stop-color="#052109"/><stop offset="0.6703" stop-color="#052109"/><stop offset="0.6745" stop-color="#072e0d"/><stop offset="0.6876" stop-color="#072e0d"/><stop offset="0.6917" stop-color="#021205"/><stop offset="0.7048" stop-color="#021205"/><stop offset="0.7090" stop-color="#0c5318"/><stop offset="0.7221" stop-color="#0c5318"/><stop offset="0.7262" stop-color="#106f21"/><stop offset="0.7393" stop-color="#106f21"/><stop offset="0.7434" stop-color="#083710"/><stop offset="0.7566" stop-color="#083710"/><stop offset="0.7607" stop-color="#0c5318"/><stop offset="0.7738" stop-color="#0c5318"/><stop offset="0.7779" stop-color="#1cb937"/><stop offset="0.7910" stop-color="#1cb937"/><stop offset="0.7952" stop-color="#1cb937"/><stop offset="0.8083" stop-color="#1cb937"/><stop offset="0.8124" stop-color="#072e0d"/><stop offset="0.8255" stop-color="#072e0d"/><stop offset="0.8297" stop-color="#052109"/><stop offset="0.8428" stop-color="#052109"/><stop offset="0.8469" stop-color="#083710"/><stop offset="0.8600" stop-color="#083710"/><stop offset="0.8641" stop-color="#072e0d"/><stop offset="0.8772" stop-color="#072e0d"/><stop offset="0.8814" stop-color="#1cb937"/><stop offset="0.8945" stop-color="#1cb937"/><stop offset="0.8986" stop-color="#0e5c1b"/><stop offset="0.9117" stop-color="#0e5c1b"/><stop offset="0.9159" stop-color="#106f21"/><stop offset="0.9290" stop-color="#106f21"/><stop offset="0.9331" stop-color="#083710"/><stop offset="0.9462" stop-color="#083710"/><stop offset="0.9503" stop-color="#1cb937"/><stop offset="0.9634" stop-color="#1cb937"/><stop offset="0.9676" stop-color="#0e5c1b"/><stop offset="0.9807" stop-color="#0e5c1b"/><stop offset="0.9848" stop-color="#106f21"/><stop offset="0.9979" stop-color="#106f21"/></linearGradient></defs>
<rect x="333.20" y="71.90" width="10.20" height="78.10" fill="url(#hm2)"/>
<defs><linearGradient id="hm3" x1="0" x2="0" y1="0" y2="1"><stop offset="0.0086" stop-color="#ff1626"/><stop offset="0.0259" stop-color="#e81422"/><stop offset="0.0431" stop-color="#d5121f"/><stop offset="0.0603" stop-color="#c6111d"/><stop offset="0.0776" stop-color="#b80f1b"/><stop offset="0.0948" stop-color="#ad0e19"/><stop offset="0.1121" stop-color="#a30e18"/><stop offset="0.1293" stop-color="#9a0d17"/><stop offset="0.1466" stop-color="#930c16"/><stop offset="0.1638" stop-color="#8d0c15"/><stop offset="0.1810" stop-color="#880b14"/><stop offset="0.1983" stop-color="#830b13"/><stop offset="0.2155" stop-color="#7f0b13"/><stop offset="0.2328" stop-color="#7c0a12"/><stop offset="0.2500" stop-color="#790a12"/><stop offset="0.2672" stop-color="#760a11"/><stop offset="0.2845" stop-color="#740a11"/><stop offset="0.3017" stop-color="#710910"/><stop offset="0.3190" stop-color="#6f0910"/><stop offset="0.3362" stop-color="#6e0910"/><stop offset="0.3534" stop-color="#6c0910"/><stop offset="0.3707" stop-color="#6a090f"/><stop offset="0.3879" stop-color="#69090f"/><stop offset="0.4052" stop-color="#68080f"/><stop offset="0.4224" stop-color="#66080f"/><stop offset="0.4397" stop-color="#65080f"/><stop offset="0.4569" stop-color="#64080e"/><stop offset="0.4741" stop-color="#63080e"/><stop offset="0.4914" stop-color="#62080e"/><stop offset="0.5086" stop-color="#61080e"/><stop offset="0.5259" stop-color="#60080e"/><stop offset="0.5431" stop-color="#5f080e"/><stop offset="0.5603" stop-color="#5e080e"/><stop offset="0.5776" stop-color="#5d080d"/><stop offset="0.5948" stop-color="#5c070d"/><stop offset="0.6121" stop-color="#5b070d"/><stop offset="0.6293" stop-color="#5a070d"/><stop offset="0.6466" stop-color="#59070d"/><stop offset="0.6638" stop-color="#58070d"/><stop offset="0.6810" stop-color="#57070d"/><stop offset="0.6983" stop-color="#56070c"/><stop offset="0.7155" stop-color="#55070c"/><stop offset="0.7328" stop-color="#54070c"/><stop offset="0.7500" stop-color="#53070c"/><stop offset="0.7672" stop-color="#53070c"/><stop offset="0.7845" stop-color="#52070c"/><stop offset="0.8017" stop-color="#51070c"/><stop offset="0.8190" stop-color="#50060b"/><stop offset="0.8362" stop-color="#4f060b"/><stop offset="0.8534" stop-color="#4e060b"/><stop offset="0.8707" stop-color="#4d060b"/><stop offset="0.8879" stop-color="#4c060b"/><stop offset="0.9052" stop-color="#4b060b"/><stop offset="0.9224" stop-color="#4a060b"/><stop offset="0.9397" stop-color="#4a060b"/><stop offset="0.9569" stop-color="#49060a"/><stop offset="0.9741" stop-color="#48060a"/><stop offset="0.9914" stop-color="#47060a"/></linearGradient></defs>
<rect x="342.80" y="71.90" width="10.30" height="78.10" fill="url(#hm3)"/>
<defs><linearGradient id="hm4" x1="0" x2="0" y1="0" y2="1"><stop offset="0.0021" stop-color="#eb1c26"/><stop offset="0.0152" stop-color="#eb1c26"/><stop offset="0.0193" stop-color="#eb1c26"/><stop offset="0.0324" stop-color="#eb1c26"/><stop offset="0.0366" stop-color="#eb1c26"/><stop offset="0.0497" stop-color="#eb1c26"/><stop offset="0.0538" stop-color="#3c0709"/><stop offset="0.0669" stop-color="#3c0709"/><stop offset="0.0710" stop-color="#5a0a0d"/><stop offset="0.0841" stop-color="#5a0a0d"/><stop offset="0.0883" stop-color="#48080a"/><stop offset="0.1014" stop-color="#48080a"/><stop offset="0.1055" stop-color="#3c0709"/><stop offset="0.1186" stop-color="#3c0709"/><stop offset="0.1228" stop-color="#5a0a0d"/><stop offset="0.1359" stop-color="#5a0a0d"/><stop offset="0.1400" stop-color="#380608"/><stop offset="0.1531" stop-color="#380608"/><stop offset="0.1572" stop-color="#380608"/><stop offset="0.1703" stop-color="#380608"/><stop offset="0.1745" stop-color="#280406"/><stop offset="0.1876" stop-color="#280406"/><stop offset="0.1917" stop-color="#380608"/><stop offset="0.2048" stop-color="#380608"/><stop offset="0.2090" stop-color="#380608"/><stop offset="0.2221" stop-color="#380608"/><stop offset="0.2262" stop-color="#380608"/><stop offset="0.2393" stop-color="#380608"/><stop offset="0.2434" stop-color="#3c0709"/><stop offset="0.2566" stop-color="#3c0709"/><stop offset="0.2607" stop-color="#380608"/><stop offset="0.2738" stop-color="#380608"/><stop offset="0.2779" stop-color="#280406"/><stop offset="0.2910" stop-color="#280406"/><stop offset="0.2952" stop-color="#5a0a0d"/><stop offset="0.3083" stop-color="#5a0a0d"/><stop offset="0.3124" stop-color="#7c0e12"/><stop offset="0.3255" stop-color="#7c0e12"/><stop offset="0.3297" stop-color="#6e0d10"/><stop offset="0.3428" stop-color="#6e0d10"/><stop offset="0.3469" stop-color="#380608"/><stop offset="0.3600" stop-color="#380608"/><stop offset="0.3641" stop-color="#48080a"/><stop offset="0.3772" stop-color="#48080a"/><stop offset="0.3814" stop-color="#48080a"/><stop offset="0.3945" stop-color="#48080a"/><stop offset="0.3986" stop-color="#280406"/><stop offset="0.4117" stop-color="#280406"/><stop offset="0.4159" stop-color="#380608"/><stop offset="0.4290" stop-color="#380608"/><stop offset="0.4331" stop-color="#5a0a0d"/><stop offset="0.4462" stop-color="#5a0a0d"/><stop offset="0.4503" stop-color="#6e0d10"/><stop offset="0.4634" stop-color="#6e0d10"/><stop offset="0.4676" stop-color="#48080a"/><stop offset="0.4807" stop-color="#48080a"/><stop offset="0.4848" stop-color="#6e0d10"/><stop offset="0.4979" stop-color="#6e0d10"/><stop offset="0.5021" stop-color="#6e0d10"/><stop offset="0.5152" stop-color="#6e0d10"/><stop offset="0.5193" stop-color="#48080a"/><stop offset="0.5324" stop-color="#48080a"/><stop offset="0.5366" stop-color="#380608"/><stop offset="0.5497" stop-color="#380608"/><stop offset="0.5538" stop-color="#3c0709"/><stop offset="0.5669" stop-color="#3c0709"/><stop offset="0.5710" stop-color="#7c0e12"/><stop offset="0.5841" stop-color="#7c0e12"/><stop offset="0.5883" stop-color="#6e0d10"/><stop offset="0.6014" stop-color="#6e0d10"/><stop offset="0.6055" stop-color="#6e0d10"/><stop offset="0.6186" stop-color="#6e0d10"/><stop offset="0.6228" stop-color="#3c0709"/><stop offset="0.6359" stop-color="#3c0709"/><stop offset="0.6400" stop-color="#3c0709"/><stop offset="0.6531" stop-color="#3c0709"/><stop offset="0.6572" stop-color="#3c0709"/><stop offset="0.6703" stop-color="#3c0709"/><stop offset="0.6745" stop-color="#280406"/><stop offset="0.6876" stop-color="#280406"/><stop offset="0.6917" stop-color="#5a0a0d"/><stop offset="0.7048" stop-color="#5a0a0d"/><stop offset="0.7090" stop-color="#7c0e12"/><stop offset="0.7221" stop-color="#7c0e12"/><stop offset="0.7262" stop-color="#7c0e12"/><stop offset="0.7393" stop-color="#7c0e12"/><stop offset="0.7434" stop-color="#7c0e12"/><stop offset="0.7566" stop-color="#7c0e12"/><stop offset="0.7607" stop-color="#3c0709"/><stop offset="0.7738" stop-color="#3c0709"/><stop offset="0.7779" stop-color="#7c0e12"/><stop offset="0.7910" stop-color="#7c0e12"/><stop offset="0.7952" stop-color="#6e0d10"/><stop offset="0.8083" stop-color="#6e0d10"/><stop offset="0.8124" stop-color="#5a0a0d"/><stop offset="0.8255" stop-color="#5a0a0d"/><stop offset="0.8297" stop-color="#5a0a0d"/><stop offset="0.8428" stop-color="#5a0a0d"/><stop offset="0.8469" stop-color="#5a0a0d"/><stop offset="0.8600" stop-color="#5a0a0d"/><stop offset="0.8641" stop-color="#5a0a0d"/><stop offset="0.8772" stop-color="#5a0a0d"/><stop offset="0.8814" stop-color="#280406"/><stop offset="0.8945" stop-color="#280406"/><stop offset="0.8986" stop-color="#5a0a0d"/><stop offset="0.9117" stop-color="#5a0a0d"/><stop offset="0.9159" stop-color="#3c0709"/><stop offset="0.9290" stop-color="#3c0709"/><stop offset="0.9331" stop-color="#5a0a0d"/><stop offset="0.9462" stop-color="#5a0a0d"/><stop offset="0.9503" stop-color="#280406"/><stop offset="0.9634" stop-color="#280406"/><stop offset="0.9676" stop-color="#380608"/><stop offset="0.9807" stop-color="#380608"/><stop offset="0.9848" stop-color="#280406"/><stop offset="0.9979" stop-color="#280406"/></linearGradient></defs>
<rect x="352.50" y="71.90" width="9.50" height="78.10" fill="url(#hm4)"/>
<defs><linearGradient id="hm5" x1="0" x2="0" y1="0" y2="1"><stop offset="0.0026" stop-color="#55c23d"/><stop offset="0.0187" stop-color="#55c23d"/><stop offset="0.0238" stop-color="#24a434"/><stop offset="0.0400" stop-color="#24a434"/><stop offset="0.0451" stop-color="#26ae37"/><stop offset="0.0613" stop-color="#26ae37"/><stop offset="0.0664" stop-color="#1d852a"/><stop offset="0.0826" stop-color="#1d852a"/><stop offset="0.0877" stop-color="#24a434"/><stop offset="0.1038" stop-color="#24a434"/><stop offset="0.1089" stop-color="#26ae37"/><stop offset="0.1251" stop-color="#26ae37"/><stop offset="0.1302" stop-color="#1d852a"/><stop offset="0.1464" stop-color="#1d852a"/><stop offset="0.1515" stop-color="#0d3d13"/><stop offset="0.1677" stop-color="#0d3d13"/><stop offset="0.1728" stop-color="#2dcd41"/><stop offset="0.1889" stop-color="#2dcd41"/><stop offset="0.1940" stop-color="#4cae37"/><stop offset="0.2102" stop-color="#4cae37"/><stop offset="0.2153" stop-color="#1d852a"/><stop offset="0.2315" stop-color="#1d852a"/><stop offset="0.2366" stop-color="#12290d"/><stop offset="0.2528" stop-color="#12290d"/><stop offset="0.2579" stop-color="#12290d"/><stop offset="0.2740" stop-color="#12290d"/><stop offset="0.2791" stop-color="#2dcd41"/><stop offset="0.2953" stop-color="#2dcd41"/><stop offset="0.3004" stop-color="#24a434"/><stop offset="0.3166" stop-color="#24a434"/><stop offset="0.3217" stop-color="#26ae37"/><stop offset="0.3379" stop-color="#26ae37"/><stop offset="0.3430" stop-color="#09290d"/><stop offset="0.3591" stop-color="#09290d"/><stop offset="0.3643" stop-color="#12521a"/><stop offset="0.3804" stop-color="#12521a"/><stop offset="0.3855" stop-color="#2ac23d"/><stop offset="0.4017" stop-color="#2ac23d"/><stop offset="0.4068" stop-color="#24a434"/><stop offset="0.4230" stop-color="#24a434"/><stop offset="0.4281" stop-color="#12521a"/><stop offset="0.4443" stop-color="#12521a"/><stop offset="0.4494" stop-color="#1d852a"/><stop offset="0.4655" stop-color="#1d852a"/><stop offset="0.4706" stop-color="#12521a"/><stop offset="0.4868" stop-color="#12521a"/><stop offset="0.4919" stop-color="#24a434"/><stop offset="0.5081" stop-color="#24a434"/><stop offset="0.5132" stop-color="#2ac23d"/><stop offset="0.5294" stop-color="#2ac23d"/><stop offset="0.5345" stop-color="#2ac23d"/><stop offset="0.5506" stop-color="#2ac23d"/><stop offset="0.5557" stop-color="#55c23d"/><stop offset="0.5719" stop-color="#55c23d"/><stop offset="0.5770" stop-color="#2ac23d"/><stop offset="0.5932" stop-color="#2ac23d"/><stop offset="0.5983" stop-color="#24521a"/><stop offset="0.6145" stop-color="#24521a"/><stop offset="0.6196" stop-color="#26ae37"/><stop offset="0.6357" stop-color="#26ae37"/><stop offset="0.6409" stop-color="#166620"/><stop offset="0.6570" stop-color="#166620"/><stop offset="0.6621" stop-color="#09290d"/><stop offset="0.6783" stop-color="#09290d"/><stop offset="0.6834" stop-color="#2ac23d"/><stop offset="0.6996" stop-color="#2ac23d"/><stop offset="0.7047" stop-color="#09290d"/><stop offset="0.7209" stop-color="#09290d"/><stop offset="0.7260" stop-color="#26ae37"/><stop offset="0.7421" stop-color="#26ae37"/><stop offset="0.7472" stop-color="#2ac23d"/><stop offset="0.7634" stop-color="#2ac23d"/><stop offset="0.7685" stop-color="#55c23d"/><stop offset="0.7847" stop-color="#55c23d"/><stop offset="0.7898" stop-color="#2ac23d"/><stop offset="0.8060" stop-color="#2ac23d"/><stop offset="0.8111" stop-color="#55c23d"/><stop offset="0.8272" stop-color="#55c23d"/><stop offset="0.8323" stop-color="#2d6620"/><stop offset="0.8485" stop-color="#2d6620"/><stop offset="0.8536" stop-color="#26ae37"/><stop offset="0.8698" stop-color="#26ae37"/><stop offset="0.8749" stop-color="#3a852a"/><stop offset="0.8911" stop-color="#3a852a"/><stop offset="0.8962" stop-color="#55c23d"/><stop offset="0.9123" stop-color="#55c23d"/><stop offset="0.9174" stop-color="#48a434"/><stop offset="0.9336" stop-color="#48a434"/><stop offset="0.9387" stop-color="#26ae37"/><stop offset="0.9549" stop-color="#26ae37"/><stop offset="0.9600" stop-color="#1b3d13"/><stop offset="0.9762" stop-color="#1b3d13"/><stop offset="0.9813" stop-color="#0d3d13"/><stop offset="0.9974" stop-color="#0d3d13"/></linearGradient></defs>
<rect x="323.50" y="149.40" width="10.30" height="62.40" fill="url(#hm5)"/>
<defs><linearGradient id="hm6" x1="0" x2="0" y1="0" y2="1"><stop offset="0.0026" stop-color="#0f5a1a"/><stop offset="0.0187" stop-color="#0f5a1a"/><stop offset="0.0238" stop-color="#031305"/><stop offset="0.0400" stop-color="#031305"/><stop offset="0.0451" stop-color="#031305"/><stop offset="0.0613" stop-color="#031305"/><stop offset="0.0664" stop-color="#031305"/><stop offset="0.0826" stop-color="#031305"/><stop offset="0.0877" stop-color="#020d03"/><stop offset="0.1038" stop-color="#020d03"/><stop offset="0.1089" stop-color="#031305"/><stop offset="0.1251" stop-color="#031305"/><stop offset="0.1302" stop-color="#0b4514"/><stop offset="0.1464" stop-color="#0b4514"/><stop offset="0.1515" stop-color="#08310e"/><stop offset="0.1677" stop-color="#08310e"/><stop offset="0.1728" stop-color="#0f5a1a"/><stop offset="0.1889" stop-color="#0f5a1a"/><stop offset="0.1940" stop-color="#031305"/><stop offset="0.2102" stop-color="#031305"/><stop offset="0.2153" stop-color="#0b4514"/><stop offset="0.2315" stop-color="#0b4514"/><stop offset="0.2366" stop-color="#0b4514"/><stop offset="0.2528" stop-color="#0b4514"/><stop offset="0.2579" stop-color="#08310e"/><stop offset="0.2740" stop-color="#08310e"/><stop offset="0.2791" stop-color="#0f5a1a"/><stop offset="0.2953" stop-color="#0f5a1a"/><stop offset="0.3004" stop-color="#052109"/><stop offset="0.3166" stop-color="#052109"/><stop offset="0.3217" stop-color="#031305"/><stop offset="0.3379" stop-color="#031305"/><stop offset="0.3430" stop-color="#0b4514"/><stop offset="0.3591" stop-color="#0b4514"/><stop offset="0.3643" stop-color="#0b4514"/><stop offset="0.3804" stop-color="#0b4514"/><stop offset="0.3855" stop-color="#031305"/><stop offset="0.4017" stop-color="#031305"/><stop offset="0.4068" stop-color="#020d03"/><stop offset="0.4230" stop-color="#020d03"/><stop offset="0.4281" stop-color="#020d03"/><stop offset="0.4443" stop-color="#020d03"/><stop offset="0.4494" stop-color="#0f5a1a"/><stop offset="0.4655" stop-color="#0f5a1a"/><stop offset="0.4706" stop-color="#0f5a1a"/><stop offset="0.4868" stop-color="#0f5a1a"/><stop offset="0.4919" stop-color="#020d03"/><stop offset="0.5081" stop-color="#020d03"/><stop offset="0.5132" stop-color="#0b4514"/><stop offset="0.5294" stop-color="#0b4514"/><stop offset="0.5345" stop-color="#0f5a1a"/><stop offset="0.5506" stop-color="#0f5a1a"/><stop offset="0.5557" stop-color="#031305"/><stop offset="0.5719" stop-color="#031305"/><stop offset="0.5770" stop-color="#08310e"/><stop offset="0.5932" stop-color="#08310e"/><stop offset="0.5983" stop-color="#031305"/><stop offset="0.6145" stop-color="#031305"/><stop offset="0.6196" stop-color="#031305"/><stop offset="0.6357" stop-color="#031305"/><stop offset="0.6409" stop-color="#020d03"/><stop offset="0.6570" stop-color="#020d03"/><stop offset="0.6621" stop-color="#052109"/><stop offset="0.6783" stop-color="#052109"/><stop offset="0.6834" stop-color="#031305"/><stop offset="0.6996" stop-color="#031305"/><stop offset="0.7047" stop-color="#052109"/><stop offset="0.7209" stop-color="#052109"/><stop offset="0.7260" stop-color="#0b4514"/><stop offset="0.7421" stop-color="#0b4514"/><stop offset="0.7472" stop-color="#031305"/><stop offset="0.7634" stop-color="#031305"/><stop offset="0.7685" stop-color="#0b4514"/><stop offset="0.7847" stop-color="#0b4514"/><stop offset="0.7898" stop-color="#052109"/><stop offset="0.8060" stop-color="#052109"/><stop offset="0.8111" stop-color="#052109"/><stop offset="0.8272" stop-color="#052109"/><stop offset="0.8323" stop-color="#0b4514"/><stop offset="0.8485" stop-color="#0b4514"/><stop offset="0.8536" stop-color="#08310e"/><stop offset="0.8698" stop-color="#08310e"/><stop offset="0.8749" stop-color="#031305"/><stop offset="0.8911" stop-color="#031305"/><stop offset="0.8962" stop-color="#020d03"/><stop offset="0.9123" stop-color="#020d03"/><stop offset="0.9174" stop-color="#0f5a1a"/><stop offset="0.9336" stop-color="#0f5a1a"/><stop offset="0.9387" stop-color="#052109"/><stop offset="0.9549" stop-color="#052109"/><stop offset="0.9600" stop-color="#08310e"/><stop offset="0.9762" stop-color="#08310e"/><stop offset="0.9813" stop-color="#0f5a1a"/><stop offset="0.9974" stop-color="#0f5a1a"/></linearGradient></defs>
<rect x="333.20" y="149.40" width="10.20" height="62.40" fill="url(#hm6)"/>
<defs><linearGradient id="hm7" x1="0" x2="0" y1="0" y2="1"><stop offset="0.0106" stop-color="#ce1624"/><stop offset="0.0319" stop-color="#bb1321"/><stop offset="0.0532" stop-color="#b31320"/><stop offset="0.0745" stop-color="#ac121e"/><stop offset="0.0957" stop-color="#a6111d"/><stop offset="0.1170" stop-color="#a1111c"/><stop offset="0.1383" stop-color="#9c101b"/><stop offset="0.1596" stop-color="#97101b"/><stop offset="0.1809" stop-color="#930f1a"/><stop offset="0.2021" stop-color="#8f0f19"/><stop offset="0.2234" stop-color="#8b0e18"/><stop offset="0.2447" stop-color="#880e18"/><stop offset="0.2660" stop-color="#840e17"/><stop offset="0.2872" stop-color="#810d17"/><stop offset="0.3085" stop-color="#7e0d16"/><stop offset="0.3298" stop-color="#7b0d15"/><stop offset="0.3511" stop-color="#780c15"/><stop offset="0.3723" stop-color="#750c14"/><stop offset="0.3936" stop-color="#720c14"/><stop offset="0.4149" stop-color="#6f0b13"/><stop offset="0.4362" stop-color="#6c0b13"/><stop offset="0.4574" stop-color="#6a0b12"/><stop offset="0.4787" stop-color="#670b12"/><stop offset="0.5000" stop-color="#640a12"/><stop offset="0.5213" stop-color="#620a11"/><stop offset="0.5426" stop-color="#5f0a11"/><stop offset="0.5638" stop-color="#5d0910"/><stop offset="0.5851" stop-color="#5b0910"/><stop offset="0.6064" stop-color="#58090f"/><stop offset="0.6277" stop-color="#56090f"/><stop offset="0.6489" stop-color="#54080f"/><stop offset="0.6702" stop-color="#51080e"/><stop offset="0.6915" stop-color="#4f080e"/><stop offset="0.7128" stop-color="#4d080d"/><stop offset="0.7340" stop-color="#4b080d"/><stop offset="0.7553" stop-color="#49070d"/><stop offset="0.7766" stop-color="#47070c"/><stop offset="0.7979" stop-color="#45070c"/><stop offset="0.8191" stop-color="#43070c"/><stop offset="0.8404" stop-color="#41060b"/><stop offset="0.8617" stop-color="#3f060b"/><stop offset="0.8830" stop-color="#3d060a"/><stop offset="0.9043" stop-color="#3b060a"/><stop offset="0.9255" stop-color="#39060a"/><stop offset="0.9468" stop-color="#370509"/><stop offset="0.9681" stop-color="#350509"/><stop offset="0.9894" stop-color="#330509"/></linearGradient></defs>
<rect x="342.80" y="149.40" width="10.30" height="62.40" fill="url(#hm7)"/>
<defs><linearGradient id="hm8" x1="0" x2="0" y1="0" y2="1"><stop offset="0.0026" stop-color="#360606"/><stop offset="0.0187" stop-color="#360606"/><stop offset="0.0238" stop-color="#360606"/><stop offset="0.0400" stop-color="#360606"/><stop offset="0.0451" stop-color="#2d0505"/><stop offset="0.0613" stop-color="#2d0505"/><stop offset="0.0664" stop-color="#360606"/><stop offset="0.0826" stop-color="#360606"/><stop offset="0.0877" stop-color="#1b0303"/><stop offset="0.1038" stop-color="#1b0303"/><stop offset="0.1089" stop-color="#360606"/><stop offset="0.1251" stop-color="#360606"/><stop offset="0.1302" stop-color="#1b0303"/><stop offset="0.1464" stop-color="#1b0303"/><stop offset="0.1515" stop-color="#360606"/><stop offset="0.1677" stop-color="#360606"/><stop offset="0.1728" stop-color="#360606"/><stop offset="0.1889" stop-color="#360606"/><stop offset="0.1940" stop-color="#120202"/><stop offset="0.2102" stop-color="#120202"/><stop offset="0.2153" stop-color="#2d0505"/><stop offset="0.2315" stop-color="#2d0505"/><stop offset="0.2366" stop-color="#1b0303"/><stop offset="0.2528" stop-color="#1b0303"/><stop offset="0.2579" stop-color="#360606"/><stop offset="0.2740" stop-color="#360606"/><stop offset="0.2791" stop-color="#120202"/><stop offset="0.2953" stop-color="#120202"/><stop offset="0.3004" stop-color="#1b0303"/><stop offset="0.3166" stop-color="#1b0303"/><stop offset="0.3217" stop-color="#1b0303"/><stop offset="0.3379" stop-color="#1b0303"/><stop offset="0.3430" stop-color="#1b0303"/><stop offset="0.3591" stop-color="#1b0303"/><stop offset="0.3643" stop-color="#2d0505"/><stop offset="0.3804" stop-color="#2d0505"/><stop offset="0.3855" stop-color="#360606"/><stop offset="0.4017" stop-color="#360606"/><stop offset="0.4068" stop-color="#120202"/><stop offset="0.4230" stop-color="#120202"/><stop offset="0.4281" stop-color="#360606"/><stop offset="0.4443" stop-color="#360606"/><stop offset="0.4494" stop-color="#120202"/><stop offset="0.4655" stop-color="#120202"/><stop offset="0.4706" stop-color="#240404"/><stop offset="0.4868" stop-color="#240404"/><stop offset="0.4919" stop-color="#360606"/><stop offset="0.5081" stop-color="#360606"/><stop offset="0.5132" stop-color="#360606"/><stop offset="0.5294" stop-color="#360606"/><stop offset="0.5345" stop-color="#360606"/><stop offset="0.5506" stop-color="#360606"/><stop offset="0.5557" stop-color="#2d0505"/><stop offset="0.5719" stop-color="#2d0505"/><stop offset="0.5770" stop-color="#120202"/><stop offset="0.5932" stop-color="#120202"/><stop offset="0.5983" stop-color="#360606"/><stop offset="0.6145" stop-color="#360606"/><stop offset="0.6196" stop-color="#120202"/><stop offset="0.6357" stop-color="#120202"/><stop offset="0.6409" stop-color="#1b0303"/><stop offset="0.6570" stop-color="#1b0303"/><stop offset="0.6621" stop-color="#1b0303"/><stop offset="0.6783" stop-color="#1b0303"/><stop offset="0.6834" stop-color="#240404"/><stop offset="0.6996" stop-color="#240404"/><stop offset="0.7047" stop-color="#120202"/><stop offset="0.7209" stop-color="#120202"/><stop offset="0.7260" stop-color="#120202"/><stop offset="0.7421" stop-color="#120202"/><stop offset="0.7472" stop-color="#360606"/><stop offset="0.7634" stop-color="#360606"/><stop offset="0.7685" stop-color="#2d0505"/><stop offset="0.7847" stop-color="#2d0505"/><stop offset="0.7898" stop-color="#360606"/><stop offset="0.8060" stop-color="#360606"/><stop offset="0.8111" stop-color="#120202"/><stop offset="0.8272" stop-color="#120202"/><stop offset="0.8323" stop-color="#120202"/><stop offset="0.8485" stop-color="#120202"/><stop offset="0.8536" stop-color="#2d0505"/><stop offset="0.8698" stop-color="#2d0505"/><stop offset="0.8749" stop-color="#240404"/><stop offset="0.8911" stop-color="#240404"/><stop offset="0.8962" stop-color="#360606"/><stop offset="0.9123" stop-color="#360606"/><stop offset="0.9174" stop-color="#360606"/><stop offset="0.9336" stop-color="#360606"/><stop offset="0.9387" stop-color="#360606"/><stop offset="0.9549" stop-color="#360606"/><stop offset="0.9600" stop-color="#360606"/><stop offset="0.9762" stop-color="#360606"/><stop offset="0.9813" stop-color="#1b0303"/><stop offset="0.9974" stop-color="#1b0303"/></linearGradient></defs>
<rect x="352.50" y="149.40" width="9.50" height="62.40" fill="url(#hm8)"/>
<line x1="323.50" y1="149.40" x2="362.00" y2="149.40" stroke="#f0a0a0" stroke-width="0.5"/>
<text x="329.50" y="69.50" font-size="5.8" text-anchor="start" font-weight="bold" fill="#111" stroke-width="0.2" transform="rotate(-45 329.5 69.5)">shTCF3</text>
<text x="338.50" y="69.50" font-size="5.8" text-anchor="start" font-weight="bold" fill="#111" stroke-width="0.2" transform="rotate(-45 338.5 69.5)">sh&#946;-Catenin</text>
<text x="348.60" y="69.50" font-size="5.8" text-anchor="start" font-weight="bold" fill="#111" stroke-width="0.2" transform="rotate(-45 348.6 69.5)">shCont + Wnt3a</text>
<text x="358.20" y="69.50" font-size="5.8" text-anchor="start" font-weight="bold" fill="#111" stroke-width="0.2" transform="rotate(-45 358.2 69.5)">shTCF3 + Wnt3a</text>
<text x="305.00" y="115.00" font-size="5.8" text-anchor="middle" font-weight="bold" fill="#111" stroke-width="0.2">TCF3</text>
<text x="305.00" y="122.70" font-size="5.8" text-anchor="middle" font-weight="bold" fill="#111" stroke-width="0.2">repressed</text>
<text x="305.00" y="177.00" font-size="5.8" text-anchor="middle" font-weight="bold" fill="#111" stroke-width="0.2">TCF3</text>
<text x="305.00" y="184.30" font-size="5.8" text-anchor="middle" font-weight="bold" fill="#111" stroke-width="0.2">dependent</text>
<text x="321.80" y="218.50" font-size="5.6" text-anchor="start" font-weight="bold" fill="#111" stroke-width="0.2">2 &lt;</text>
<rect x="330.30" y="214.30" width="25.90" height="4.00" fill="url(#cbar)"/>
<text x="357.30" y="218.50" font-size="5.6" text-anchor="start" font-weight="bold" fill="#111" stroke-width="0.2">&gt;2 fold</text>
<text x="397.60" y="21.80" font-size="13.2" text-anchor="start" font-weight="bold" fill="#000" stroke-width="0.35">F</text>
<line x1="435.30" y1="47.60" x2="505.80" y2="47.60" stroke="#cfcfcf" stroke-width="0.6"/>
<line x1="435.30" y1="60.53" x2="505.80" y2="60.53" stroke="#cfcfcf" stroke-width="0.6"/>
<line x1="435.30" y1="73.47" x2="505.80" y2="73.47" stroke="#cfcfcf" stroke-width="0.6"/>
<line x1="435.30" y1="99.34" x2="505.80" y2="99.34" stroke="#cfcfcf" stroke-width="0.6"/>
<line x1="435.30" y1="112.27" x2="505.80" y2="112.27" stroke="#cfcfcf" stroke-width="0.6"/>
<line x1="435.30" y1="125.21" x2="505.80" y2="125.21" stroke="#cfcfcf" stroke-width="0.6"/>
<line x1="505.80" y1="47.60" x2="505.80" y2="125.21" stroke="#b0b0b0" stroke-width="0.6"/>
<line x1="435.30" y1="47.60" x2="435.30" y2="125.21" stroke="#3a3a3a" stroke-width="0.9"/>
<line x1="433.50" y1="47.60" x2="435.30" y2="47.60" stroke="#3a3a3a" stroke-width="0.7"/>
<text x="431.60" y="49.50" font-size="5.3" text-anchor="end" font-weight="bold" fill="#111" stroke-width="0.18">1.5</text>
<line x1="433.50" y1="60.53" x2="435.30" y2="60.53" stroke="#3a3a3a" stroke-width="0.7"/>
<text x="431.60" y="62.43" font-size="5.3" text-anchor="end" font-weight="bold" fill="#111" stroke-width="0.18">1</text>
<line x1="433.50" y1="73.47" x2="435.30" y2="73.47" stroke="#3a3a3a" stroke-width="0.7"/>
<text x="431.60" y="75.37" font-size="5.3" text-anchor="end" font-weight="bold" fill="#111" stroke-width="0.18">0.5</text>
<line x1="433.50" y1="86.40" x2="435.30" y2="86.40" stroke="#3a3a3a" stroke-width="0.7"/>
<text x="431.60" y="88.30" font-size="5.3" text-anchor="end" font-weight="bold" fill="#111" stroke-width="0.18">0</text>
<line x1="433.50" y1="99.34" x2="435.30" y2="99.34" stroke="#3a3a3a" stroke-width="0.7"/>
<text x="431.60" y="101.24" font-size="5.3" text-anchor="end" font-weight="bold" fill="#111" stroke-width="0.18">-0.5</text>
<line x1="433.50" y1="112.27" x2="435.30" y2="112.27" stroke="#3a3a3a" stroke-width="0.7"/>
<text x="431.60" y="114.17" font-size="5.3" text-anchor="end" font-weight="bold" fill="#111" stroke-width="0.18">-1</text>
<line x1="433.50" y1="125.21" x2="435.30" y2="125.21" stroke="#3a3a3a" stroke-width="0.7"/>
<text x="431.60" y="127.11" font-size="5.3" text-anchor="end" font-weight="bold" fill="#111" stroke-width="0.18">-1.5</text>
<rect x="442.70" y="57.43" width="10.20" height="28.97" fill="#e21b2a" stroke="#9a1018" stroke-width="0.5"/>
<line x1="447.80" y1="56.65" x2="447.80" y2="58.20" stroke="#333" stroke-width="0.5"/>
<line x1="446.60" y1="58.20" x2="449.00" y2="58.20" stroke="#333" stroke-width="0.5"/>
<line x1="446.60" y1="56.65" x2="449.00" y2="56.65" stroke="#333" stroke-width="0.5"/>
<rect x="452.90" y="86.40" width="10.20" height="28.46" fill="#9b9be0" stroke="#6a6aa8" stroke-width="0.5"/>
<line x1="458.00" y1="114.08" x2="458.00" y2="115.63" stroke="#333" stroke-width="0.5"/>
<line x1="456.80" y1="115.63" x2="459.20" y2="115.63" stroke="#333" stroke-width="0.5"/>
<line x1="456.80" y1="114.08" x2="459.20" y2="114.08" stroke="#333" stroke-width="0.5"/>
<rect x="477.95" y="86.40" width="10.20" height="12.16" fill="#e21b2a" stroke="#9a1018" stroke-width="0.5"/>
<line x1="483.05" y1="97.78" x2="483.05" y2="99.34" stroke="#333" stroke-width="0.5"/>
<line x1="481.85" y1="99.34" x2="484.25" y2="99.34" stroke="#333" stroke-width="0.5"/>
<line x1="481.85" y1="97.78" x2="484.25" y2="97.78" stroke="#333" stroke-width="0.5"/>
<rect x="488.15" y="86.40" width="10.20" height="10.87" fill="#9b9be0" stroke="#6a6aa8" stroke-width="0.5"/>
<line x1="493.25" y1="96.49" x2="493.25" y2="98.04" stroke="#333" stroke-width="0.5"/>
<line x1="492.05" y1="98.04" x2="494.45" y2="98.04" stroke="#333" stroke-width="0.5"/>
<line x1="492.05" y1="96.49" x2="494.45" y2="96.49" stroke="#333" stroke-width="0.5"/>
<line x1="435.30" y1="86.40" x2="505.80" y2="86.40" stroke="#3a3a3a" stroke-width="0.9"/>
<line x1="435.30" y1="86.40" x2="435.30" y2="88.00" stroke="#3a3a3a" stroke-width="0.7"/>
<line x1="470.55" y1="86.40" x2="470.55" y2="88.00" stroke="#3a3a3a" stroke-width="0.7"/>
<line x1="505.80" y1="86.40" x2="505.80" y2="88.00" stroke="#3a3a3a" stroke-width="0.7"/>
<text x="454.80" y="123.00" font-size="5.9" text-anchor="middle" font-weight="bold" fill="#111" stroke-width="0.2">shTCF3-1</text>
<text x="487.30" y="123.00" font-size="5.9" text-anchor="middle" font-weight="bold" fill="#111" stroke-width="0.2">sh&#946;-Catenin</text>
<text x="415.00" y="80.30" font-size="5.8" text-anchor="middle" font-weight="bold" fill="#111" stroke-width="0.2" transform="rotate(-90 415.0 80.3)">Mean change relative to shCont</text>
<text x="421.30" y="84.00" font-size="5.8" text-anchor="middle" font-weight="bold" fill="#111" stroke-width="0.2" transform="rotate(-90 421.3 84.0)">in Log2</text>
<rect x="452.20" y="28.20" width="54.40" height="17.80" fill="#fff" stroke="#555" stroke-width="0.7"/>
<rect x="454.20" y="30.90" width="3.40" height="3.40" fill="#e21b2a" stroke="#9a1018" stroke-width="0.5"/>
<text x="458.90" y="34.70" font-size="5.75" text-anchor="start" font-weight="bold" fill="#111" stroke-width="0.2">TCF3-repressed</text>
<rect x="454.20" y="40.20" width="3.40" height="3.40" fill="#9b9be0" stroke="#6a6aa8" stroke-width="0.5"/>
<text x="458.90" y="44.00" font-size="5.75" text-anchor="start" font-weight="bold" fill="#111" stroke-width="0.2">TCF3-dependent</text>
<text x="396.40" y="149.80" font-size="13.2" text-anchor="start" font-weight="bold" fill="#000" stroke-width="0.35">G</text>
<line x1="435.80" y1="227.40" x2="505.00" y2="227.40" stroke="#cfcfcf" stroke-width="0.6"/>
<line x1="435.80" y1="209.60" x2="505.00" y2="209.60" stroke="#cfcfcf" stroke-width="0.6"/>
<line x1="435.80" y1="191.80" x2="505.00" y2="191.80" stroke="#cfcfcf" stroke-width="0.6"/>
<line x1="435.80" y1="174.00" x2="505.00" y2="174.00" stroke="#cfcfcf" stroke-width="0.6"/>
<line x1="505.00" y1="174.00" x2="505.00" y2="245.20" stroke="#b0b0b0" stroke-width="0.6"/>
<line x1="435.80" y1="174.00" x2="435.80" y2="245.20" stroke="#3a3a3a" stroke-width="0.9"/>
<line x1="434.00" y1="245.20" x2="435.80" y2="245.20" stroke="#3a3a3a" stroke-width="0.7"/>
<text x="431.80" y="247.15" font-size="5.4" text-anchor="end" font-weight="bold" fill="#111" stroke-width="0.18">0</text>
<line x1="434.00" y1="227.40" x2="435.80" y2="227.40" stroke="#3a3a3a" stroke-width="0.7"/>
<text x="431.80" y="229.35" font-size="5.4" text-anchor="end" font-weight="bold" fill="#111" stroke-width="0.18">0.2</text>
<line x1="434.00" y1="209.60" x2="435.80" y2="209.60" stroke="#3a3a3a" stroke-width="0.7"/>
<text x="431.80" y="211.55" font-size="5.4" text-anchor="end" font-weight="bold" fill="#111" stroke-width="0.18">0.4</text>
<line x1="434.00" y1="191.80" x2="435.80" y2="191.80" stroke="#3a3a3a" stroke-width="0.7"/>
<text x="431.80" y="193.75" font-size="5.4" text-anchor="end" font-weight="bold" fill="#111" stroke-width="0.18">0.6</text>
<line x1="434.00" y1="174.00" x2="435.80" y2="174.00" stroke="#3a3a3a" stroke-width="0.7"/>
<text x="431.80" y="175.95" font-size="5.4" text-anchor="end" font-weight="bold" fill="#111" stroke-width="0.18">0.8</text>
<rect x="443.50" y="186.90" width="10.20" height="58.30" fill="#e21b2a" stroke="#9a1018" stroke-width="0.5"/>
<line x1="448.60" y1="188.68" x2="448.60" y2="185.12" stroke="#444" stroke-width="0.5"/>
<line x1="447.30" y1="185.12" x2="449.90" y2="185.12" stroke="#444" stroke-width="0.5"/>
<line x1="447.30" y1="188.68" x2="449.90" y2="188.68" stroke="#444" stroke-width="0.5"/>
<rect x="453.70" y="210.49" width="10.20" height="34.71" fill="#9b9be0" stroke="#6a6aa8" stroke-width="0.5"/>
<line x1="458.80" y1="215.38" x2="458.80" y2="205.59" stroke="#444" stroke-width="0.5"/>
<line x1="457.50" y1="205.59" x2="460.10" y2="205.59" stroke="#444" stroke-width="0.5"/>
<line x1="457.50" y1="215.38" x2="460.10" y2="215.38" stroke="#444" stroke-width="0.5"/>
<rect x="478.10" y="195.80" width="10.20" height="49.40" fill="#e21b2a" stroke="#9a1018" stroke-width="0.5"/>
<line x1="483.20" y1="199.36" x2="483.20" y2="192.24" stroke="#444" stroke-width="0.5"/>
<line x1="481.90" y1="192.24" x2="484.50" y2="192.24" stroke="#444" stroke-width="0.5"/>
<line x1="481.90" y1="199.36" x2="484.50" y2="199.36" stroke="#444" stroke-width="0.5"/>
<rect x="488.30" y="222.06" width="10.20" height="23.14" fill="#9b9be0" stroke="#6a6aa8" stroke-width="0.5"/>
<line x1="493.40" y1="227.22" x2="493.40" y2="216.90" stroke="#444" stroke-width="0.5"/>
<line x1="492.10" y1="216.90" x2="494.70" y2="216.90" stroke="#444" stroke-width="0.5"/>
<line x1="492.10" y1="227.22" x2="494.70" y2="227.22" stroke="#444" stroke-width="0.5"/>
<line x1="435.80" y1="245.20" x2="505.00" y2="245.20" stroke="#3a3a3a" stroke-width="0.9"/>
<line x1="435.80" y1="245.20" x2="435.80" y2="246.80" stroke="#3a3a3a" stroke-width="0.7"/>
<line x1="470.40" y1="245.20" x2="470.40" y2="246.80" stroke="#3a3a3a" stroke-width="0.7"/>
<line x1="505.00" y1="245.20" x2="505.00" y2="246.80" stroke="#3a3a3a" stroke-width="0.7"/>
<text x="450.60" y="255.30" font-size="5.9" text-anchor="middle" font-weight="bold" fill="#111" stroke-width="0.2">shCont</text>
<text x="487.50" y="255.30" font-size="5.9" text-anchor="middle" font-weight="bold" fill="#111" stroke-width="0.2">shTCF3-1</text>
<text x="411.20" y="207.80" font-size="5.8" text-anchor="middle" font-weight="bold" fill="#111" stroke-width="0.2" transform="rotate(-90 411.2 207.8)">Mean change upon</text>
<text x="417.60" y="203.50" font-size="5.8" text-anchor="middle" font-weight="bold" fill="#111" stroke-width="0.2" transform="rotate(-90 417.6 203.5)">Wnt3a treatment in Log2</text>
<rect x="434.20" y="142.50" width="61.80" height="18.80" fill="#fff" stroke="#555" stroke-width="0.7"/>
<rect x="438.30" y="145.50" width="4.00" height="4.00" fill="#e21b2a" stroke="#9a1018" stroke-width="0.5"/>
<text x="443.60" y="149.50" font-size="5.85" text-anchor="start" font-weight="bold" fill="#111" stroke-width="0.2">TCF3-repressed</text>
<rect x="438.30" y="154.30" width="4.00" height="4.00" fill="#9b9be0" stroke="#6a6aa8" stroke-width="0.5"/>
<text x="443.60" y="158.30" font-size="5.85" text-anchor="start" font-weight="bold" fill="#111" stroke-width="0.2">TCF3-dependent</text>
<path d="M447.2 178.6 V172.7 H484 V179.6" stroke="#555" stroke-width="0.6" fill="none"/>
<path d="M448.3 185.5 V181.2 H458.1 V199.2" stroke="#555" stroke-width="0.6" fill="none"/>
<path d="M458.1 187.5 H493.8 V208" stroke="#555" stroke-width="0.6" fill="none"/>
<text x="465.20" y="171.20" font-size="4.6" text-anchor="middle" font-weight="bold" fill="#111" stroke-width="0.16"><tspan font-style="italic">P</tspan> = 0.01</text>
<text x="448.20" y="179.80" font-size="4.6" text-anchor="start" font-weight="bold" fill="#111" stroke-width="0.16"><tspan font-style="italic">P</tspan> &lt; 10<tspan font-size="3" dy="-1.5">-4</tspan></text>
<text x="463.30" y="186.20" font-size="4.6" text-anchor="start" font-weight="bold" fill="#111" stroke-width="0.16"><tspan font-style="italic">P</tspan> = 10<tspan font-size="3" dy="-1.5">-4</tspan></text>
<text x="12.80" y="235.10" font-size="13.2" text-anchor="start" font-weight="bold" fill="#000" stroke-width="0.35">H</text>
<text x="34.70" y="230.90" font-size="6.1" text-anchor="start" font-weight="bold" fill="#111" stroke-width="0.2">TCF3 dependent</text>
<text x="34.30" y="323.30" font-size="6.2" text-anchor="start" font-weight="bold" fill="#111" stroke-width="0.2">TCF3 repressed</text>
<text x="0.00" y="0.00" font-size="5.9" text-anchor="middle" font-weight="bold" fill="#111" stroke-width="0.2" transform="translate(82.60 240.90) scale(0.91 1)">AXIN2</text>
<line x1="47.60" y1="283.22" x2="127.50" y2="283.22" stroke="#cfcfcf" stroke-width="0.7"/>
<line x1="47.60" y1="271.55" x2="127.50" y2="271.55" stroke="#cfcfcf" stroke-width="0.7"/>
<line x1="47.60" y1="259.88" x2="127.50" y2="259.88" stroke="#cfcfcf" stroke-width="0.7"/>
<line x1="47.60" y1="248.20" x2="127.50" y2="248.20" stroke="#cfcfcf" stroke-width="0.7"/>
<line x1="47.60" y1="294.90" x2="127.50" y2="294.90" stroke="#7a7a7a" stroke-width="0.7"/>
<line x1="47.60" y1="294.90" x2="47.60" y2="296.20" stroke="#7a7a7a" stroke-width="0.6"/>
<line x1="70.10" y1="294.90" x2="70.10" y2="296.20" stroke="#7a7a7a" stroke-width="0.6"/>
<line x1="81.20" y1="294.90" x2="81.20" y2="296.20" stroke="#7a7a7a" stroke-width="0.6"/>
<line x1="91.70" y1="294.90" x2="91.70" y2="296.20" stroke="#7a7a7a" stroke-width="0.6"/>
<line x1="115.00" y1="294.90" x2="115.00" y2="296.20" stroke="#7a7a7a" stroke-width="0.6"/>
<line x1="81.20" y1="248.20" x2="81.20" y2="294.90" stroke="#8a8a8a" stroke-width="0.9"/>
<line x1="79.90" y1="294.90" x2="81.20" y2="294.90" stroke="#6a6a6a" stroke-width="0.6"/>
<text x="0.00" y="0.00" font-size="4.8" text-anchor="end" font-weight="bold" fill="#111" stroke-width="0.16" transform="translate(78.10 296.65) scale(0.88 1)">0</text>
<line x1="79.90" y1="283.22" x2="81.20" y2="283.22" stroke="#6a6a6a" stroke-width="0.6"/>
<text x="0.00" y="0.00" font-size="4.8" text-anchor="end" font-weight="bold" fill="#111" stroke-width="0.16" transform="translate(78.10 284.97) scale(0.88 1)">5</text>
<line x1="79.90" y1="271.55" x2="81.20" y2="271.55" stroke="#6a6a6a" stroke-width="0.6"/>
<text x="0.00" y="0.00" font-size="4.8" text-anchor="end" font-weight="bold" fill="#111" stroke-width="0.16" transform="translate(78.10 273.30) scale(0.88 1)">10</text>
<line x1="79.90" y1="259.88" x2="81.20" y2="259.88" stroke="#6a6a6a" stroke-width="0.6"/>
<text x="0.00" y="0.00" font-size="4.8" text-anchor="end" font-weight="bold" fill="#111" stroke-width="0.16" transform="translate(78.10 261.62) scale(0.88 1)">15</text>
<line x1="79.90" y1="248.20" x2="81.20" y2="248.20" stroke="#6a6a6a" stroke-width="0.6"/>
<text x="0.00" y="0.00" font-size="4.8" text-anchor="end" font-weight="bold" fill="#111" stroke-width="0.16" transform="translate(78.10 249.95) scale(0.88 1)">20</text>
<text x="0.00" y="0.00" font-size="4.9" text-anchor="middle" font-weight="bold" fill="#111" stroke-width="0.18" transform="translate(47.50 304.85) scale(0.88 1)">-1500</text>
<text x="0.00" y="0.00" font-size="4.9" text-anchor="middle" font-weight="bold" fill="#111" stroke-width="0.18" transform="translate(70.10 304.85) scale(0.88 1)">-500</text>
<text x="0.00" y="0.00" font-size="4.9" text-anchor="middle" font-weight="bold" fill="#111" stroke-width="0.18" transform="translate(81.20 304.85) scale(0.88 1)">TSS</text>
<text x="0.00" y="0.00" font-size="4.9" text-anchor="middle" font-weight="bold" fill="#111" stroke-width="0.18" transform="translate(91.70 304.85) scale(0.88 1)">500</text>
<text x="0.00" y="0.00" font-size="4.9" text-anchor="middle" font-weight="bold" fill="#111" stroke-width="0.18" transform="translate(115.00 304.85) scale(0.88 1)">1500</text>
<path d="M49.20 293.80 L77.00 288.50 L89.40 255.70 L92.20 255.70 L99.20 285.30 L125.80 291.80" stroke="#34449a" stroke-width="1.15" fill="none" stroke-linejoin="round"/>
<rect x="48.30" y="292.90" width="1.80" height="1.80" fill="#34449a"/>
<rect x="76.10" y="287.60" width="1.80" height="1.80" fill="#34449a"/>
<rect x="88.50" y="254.80" width="1.80" height="1.80" fill="#34449a"/>
<rect x="91.30" y="254.80" width="1.80" height="1.80" fill="#34449a"/>
<rect x="98.30" y="284.40" width="1.80" height="1.80" fill="#34449a"/>
<rect x="124.90" y="290.90" width="1.80" height="1.80" fill="#34449a"/>
<path d="M60.10 295.04 L62.70 295.04 L61.40 292.70 Z" fill="#d0202a"/>
<path d="M84.50 295.04 L87.10 295.04 L85.80 292.70 Z" fill="#d0202a"/>
<path d="M89.50 295.04 L92.10 295.04 L90.80 292.70 Z" fill="#d0202a"/>
<path d="M99.40 295.04 L102.00 295.04 L100.70 292.70 Z" fill="#d0202a"/>
<text x="0.00" y="0.00" font-size="5.9" text-anchor="middle" font-weight="bold" fill="#111" stroke-width="0.2" transform="translate(178.60 240.90) scale(0.91 1)">TGFBR3</text>
<line x1="139.60" y1="286.26" x2="215.00" y2="286.26" stroke="#cfcfcf" stroke-width="0.7"/>
<line x1="139.60" y1="276.52" x2="215.00" y2="276.52" stroke="#cfcfcf" stroke-width="0.7"/>
<line x1="139.60" y1="266.78" x2="215.00" y2="266.78" stroke="#cfcfcf" stroke-width="0.7"/>
<line x1="139.60" y1="257.04" x2="215.00" y2="257.04" stroke="#cfcfcf" stroke-width="0.7"/>
<line x1="139.60" y1="247.30" x2="215.00" y2="247.30" stroke="#cfcfcf" stroke-width="0.7"/>
<line x1="139.60" y1="296.00" x2="215.00" y2="296.00" stroke="#7a7a7a" stroke-width="0.7"/>
<line x1="139.60" y1="296.00" x2="139.60" y2="297.30" stroke="#7a7a7a" stroke-width="0.6"/>
<line x1="158.80" y1="296.00" x2="158.80" y2="297.30" stroke="#7a7a7a" stroke-width="0.6"/>
<line x1="177.10" y1="296.00" x2="177.10" y2="297.30" stroke="#7a7a7a" stroke-width="0.6"/>
<line x1="196.30" y1="296.00" x2="196.30" y2="297.30" stroke="#7a7a7a" stroke-width="0.6"/>
<line x1="214.60" y1="296.00" x2="214.60" y2="297.30" stroke="#7a7a7a" stroke-width="0.6"/>
<line x1="177.70" y1="247.30" x2="177.70" y2="296.00" stroke="#8a8a8a" stroke-width="0.9"/>
<line x1="176.40" y1="296.00" x2="177.70" y2="296.00" stroke="#6a6a6a" stroke-width="0.6"/>
<text x="0.00" y="0.00" font-size="4.8" text-anchor="end" font-weight="bold" fill="#111" stroke-width="0.16" transform="translate(174.60 297.75) scale(0.88 1)">0</text>
<line x1="176.40" y1="286.26" x2="177.70" y2="286.26" stroke="#6a6a6a" stroke-width="0.6"/>
<text x="0.00" y="0.00" font-size="4.8" text-anchor="end" font-weight="bold" fill="#111" stroke-width="0.16" transform="translate(174.60 288.01) scale(0.88 1)">1</text>
<line x1="176.40" y1="276.52" x2="177.70" y2="276.52" stroke="#6a6a6a" stroke-width="0.6"/>
<text x="0.00" y="0.00" font-size="4.8" text-anchor="end" font-weight="bold" fill="#111" stroke-width="0.16" transform="translate(174.60 278.27) scale(0.88 1)">2</text>
<line x1="176.40" y1="266.78" x2="177.70" y2="266.78" stroke="#6a6a6a" stroke-width="0.6"/>
<text x="0.00" y="0.00" font-size="4.8" text-anchor="end" font-weight="bold" fill="#111" stroke-width="0.16" transform="translate(174.60 268.53) scale(0.88 1)">3</text>
<line x1="176.40" y1="257.04" x2="177.70" y2="257.04" stroke="#6a6a6a" stroke-width="0.6"/>
<text x="0.00" y="0.00" font-size="4.8" text-anchor="end" font-weight="bold" fill="#111" stroke-width="0.16" transform="translate(174.60 258.79) scale(0.88 1)">4</text>
<line x1="176.40" y1="247.30" x2="177.70" y2="247.30" stroke="#6a6a6a" stroke-width="0.6"/>
<text x="0.00" y="0.00" font-size="4.8" text-anchor="end" font-weight="bold" fill="#111" stroke-width="0.16" transform="translate(174.60 249.05) scale(0.88 1)">5</text>
<text x="0.00" y="0.00" font-size="4.9" text-anchor="middle" font-weight="bold" fill="#111" stroke-width="0.18" transform="translate(140.30 304.85) scale(0.88 1)">-2000</text>
<text x="0.00" y="0.00" font-size="4.9" text-anchor="middle" font-weight="bold" fill="#111" stroke-width="0.18" transform="translate(159.20 304.85) scale(0.88 1)">-1000</text>
<text x="0.00" y="0.00" font-size="4.9" text-anchor="middle" font-weight="bold" fill="#111" stroke-width="0.18" transform="translate(176.90 304.85) scale(0.88 1)">TSS</text>
<text x="0.00" y="0.00" font-size="4.9" text-anchor="middle" font-weight="bold" fill="#111" stroke-width="0.18" transform="translate(196.70 304.85) scale(0.88 1)">1000</text>
<text x="0.00" y="0.00" font-size="4.9" text-anchor="middle" font-weight="bold" fill="#111" stroke-width="0.18" transform="translate(214.60 304.85) scale(0.88 1)">2000</text>
<path d="M155.40 285.30 L173.00 269.20 L199.90 280.00" stroke="#34449a" stroke-width="1.15" fill="none" stroke-linejoin="round"/>
<rect x="154.50" y="284.40" width="1.80" height="1.80" fill="#34449a"/>
<rect x="172.10" y="268.30" width="1.80" height="1.80" fill="#34449a"/>
<rect x="199.00" y="279.10" width="1.80" height="1.80" fill="#34449a"/>
<path d="M172.8 290.0 L174.8 292.0 M174.8 290.0 L172.8 292.0" stroke="#d0202a" stroke-width="0.7"/>
<text x="0.00" y="0.00" font-size="5.9" text-anchor="middle" font-weight="bold" fill="#111" stroke-width="0.2" transform="translate(85.00 334.30) scale(0.91 1)">DKK1</text>
<line x1="46.90" y1="377.82" x2="122.50" y2="377.82" stroke="#cfcfcf" stroke-width="0.7"/>
<line x1="46.90" y1="368.34" x2="122.50" y2="368.34" stroke="#cfcfcf" stroke-width="0.7"/>
<line x1="46.90" y1="358.86" x2="122.50" y2="358.86" stroke="#cfcfcf" stroke-width="0.7"/>
<line x1="46.90" y1="349.38" x2="122.50" y2="349.38" stroke="#cfcfcf" stroke-width="0.7"/>
<line x1="46.90" y1="339.90" x2="122.50" y2="339.90" stroke="#cfcfcf" stroke-width="0.7"/>
<line x1="46.90" y1="387.30" x2="122.50" y2="387.30" stroke="#7a7a7a" stroke-width="0.7"/>
<line x1="46.90" y1="387.30" x2="46.90" y2="388.60" stroke="#7a7a7a" stroke-width="0.6"/>
<line x1="65.40" y1="387.30" x2="65.40" y2="388.60" stroke="#7a7a7a" stroke-width="0.6"/>
<line x1="84.00" y1="387.30" x2="84.00" y2="388.60" stroke="#7a7a7a" stroke-width="0.6"/>
<line x1="103.30" y1="387.30" x2="103.30" y2="388.60" stroke="#7a7a7a" stroke-width="0.6"/>
<line x1="122.50" y1="387.30" x2="122.50" y2="388.60" stroke="#7a7a7a" stroke-width="0.6"/>
<line x1="84.60" y1="339.90" x2="84.60" y2="387.30" stroke="#8a8a8a" stroke-width="0.9"/>
<line x1="83.30" y1="387.30" x2="84.60" y2="387.30" stroke="#6a6a6a" stroke-width="0.6"/>
<text x="0.00" y="0.00" font-size="4.8" text-anchor="end" font-weight="bold" fill="#111" stroke-width="0.16" transform="translate(81.50 389.05) scale(0.88 1)">0</text>
<line x1="83.30" y1="377.82" x2="84.60" y2="377.82" stroke="#6a6a6a" stroke-width="0.6"/>
<text x="0.00" y="0.00" font-size="4.8" text-anchor="end" font-weight="bold" fill="#111" stroke-width="0.16" transform="translate(81.50 379.57) scale(0.88 1)">1</text>
<line x1="83.30" y1="368.34" x2="84.60" y2="368.34" stroke="#6a6a6a" stroke-width="0.6"/>
<text x="0.00" y="0.00" font-size="4.8" text-anchor="end" font-weight="bold" fill="#111" stroke-width="0.16" transform="translate(81.50 370.09) scale(0.88 1)">2</text>
<line x1="83.30" y1="358.86" x2="84.60" y2="358.86" stroke="#6a6a6a" stroke-width="0.6"/>
<text x="0.00" y="0.00" font-size="4.8" text-anchor="end" font-weight="bold" fill="#111" stroke-width="0.16" transform="translate(81.50 360.61) scale(0.88 1)">3</text>
<line x1="83.30" y1="349.38" x2="84.60" y2="349.38" stroke="#6a6a6a" stroke-width="0.6"/>
<text x="0.00" y="0.00" font-size="4.8" text-anchor="end" font-weight="bold" fill="#111" stroke-width="0.16" transform="translate(81.50 351.13) scale(0.88 1)">4</text>
<line x1="83.30" y1="339.90" x2="84.60" y2="339.90" stroke="#6a6a6a" stroke-width="0.6"/>
<text x="0.00" y="0.00" font-size="4.8" text-anchor="end" font-weight="bold" fill="#111" stroke-width="0.16" transform="translate(81.50 341.65) scale(0.88 1)">5</text>
<text x="0.00" y="0.00" font-size="4.9" text-anchor="middle" font-weight="bold" fill="#111" stroke-width="0.18" transform="translate(47.20 395.55) scale(0.88 1)">-1000</text>
<text x="0.00" y="0.00" font-size="4.9" text-anchor="middle" font-weight="bold" fill="#111" stroke-width="0.18" transform="translate(65.80 395.55) scale(0.88 1)">-500</text>
<text x="0.00" y="0.00" font-size="4.9" text-anchor="middle" font-weight="bold" fill="#111" stroke-width="0.18" transform="translate(82.90 395.55) scale(0.88 1)">TSS</text>
<text x="0.00" y="0.00" font-size="4.9" text-anchor="middle" font-weight="bold" fill="#111" stroke-width="0.18" transform="translate(104.00 395.55) scale(0.88 1)">500</text>
<text x="0.00" y="0.00" font-size="4.9" text-anchor="middle" font-weight="bold" fill="#111" stroke-width="0.18" transform="translate(122.30 395.55) scale(0.88 1)">1000</text>
<path d="M50.10 367.30 L53.20 367.30 L80.40 352.20 L84.70 352.20 L103.40 365.10 L105.80 365.10" stroke="#34449a" stroke-width="1.15" fill="none" stroke-linejoin="round"/>
<rect x="49.20" y="366.40" width="1.80" height="1.80" fill="#34449a"/>
<rect x="52.30" y="366.40" width="1.80" height="1.80" fill="#34449a"/>
<rect x="79.50" y="351.30" width="1.80" height="1.80" fill="#34449a"/>
<rect x="83.80" y="351.30" width="1.80" height="1.80" fill="#34449a"/>
<rect x="102.50" y="364.20" width="1.80" height="1.80" fill="#34449a"/>
<rect x="104.90" y="364.20" width="1.80" height="1.80" fill="#34449a"/>
<circle cx="53.30" cy="382.30" r="1.2" fill="#d0202a"/>
<circle cx="63.50" cy="382.30" r="1.2" fill="#d0202a"/>
<circle cx="80.80" cy="382.30" r="1.2" fill="#d0202a"/>
<text x="0.00" y="0.00" font-size="5.9" text-anchor="middle" font-weight="bold" fill="#111" stroke-width="0.2" transform="translate(178.50 334.30) scale(0.91 1)">ANKRD1</text>
<line x1="138.70" y1="377.82" x2="213.00" y2="377.82" stroke="#cfcfcf" stroke-width="0.7"/>
<line x1="138.70" y1="368.34" x2="213.00" y2="368.34" stroke="#cfcfcf" stroke-width="0.7"/>
<line x1="138.70" y1="358.86" x2="213.00" y2="358.86" stroke="#cfcfcf" stroke-width="0.7"/>
<line x1="138.70" y1="349.38" x2="213.00" y2="349.38" stroke="#cfcfcf" stroke-width="0.7"/>
<line x1="138.70" y1="339.90" x2="213.00" y2="339.90" stroke="#cfcfcf" stroke-width="0.7"/>
<line x1="138.70" y1="387.30" x2="213.00" y2="387.30" stroke="#7a7a7a" stroke-width="0.7"/>
<line x1="138.70" y1="387.30" x2="138.70" y2="388.60" stroke="#7a7a7a" stroke-width="0.6"/>
<line x1="157.30" y1="387.30" x2="157.30" y2="388.60" stroke="#7a7a7a" stroke-width="0.6"/>
<line x1="175.90" y1="387.30" x2="175.90" y2="388.60" stroke="#7a7a7a" stroke-width="0.6"/>
<line x1="194.40" y1="387.30" x2="194.40" y2="388.60" stroke="#7a7a7a" stroke-width="0.6"/>
<line x1="213.00" y1="387.30" x2="213.00" y2="388.60" stroke="#7a7a7a" stroke-width="0.6"/>
<line x1="175.60" y1="339.90" x2="175.60" y2="387.30" stroke="#8a8a8a" stroke-width="0.9"/>
<line x1="174.30" y1="387.30" x2="175.60" y2="387.30" stroke="#6a6a6a" stroke-width="0.6"/>
<text x="0.00" y="0.00" font-size="4.8" text-anchor="end" font-weight="bold" fill="#111" stroke-width="0.16" transform="translate(172.50 389.05) scale(0.88 1)">0</text>
<line x1="174.30" y1="377.82" x2="175.60" y2="377.82" stroke="#6a6a6a" stroke-width="0.6"/>
<text x="0.00" y="0.00" font-size="4.8" text-anchor="end" font-weight="bold" fill="#111" stroke-width="0.16" transform="translate(172.50 379.57) scale(0.88 1)">1</text>
<line x1="174.30" y1="368.34" x2="175.60" y2="368.34" stroke="#6a6a6a" stroke-width="0.6"/>
<text x="0.00" y="0.00" font-size="4.8" text-anchor="end" font-weight="bold" fill="#111" stroke-width="0.16" transform="translate(172.50 370.09) scale(0.88 1)">2</text>
<line x1="174.30" y1="358.86" x2="175.60" y2="358.86" stroke="#6a6a6a" stroke-width="0.6"/>
<text x="0.00" y="0.00" font-size="4.8" text-anchor="end" font-weight="bold" fill="#111" stroke-width="0.16" transform="translate(172.50 360.61) scale(0.88 1)">3</text>
<line x1="174.30" y1="349.38" x2="175.60" y2="349.38" stroke="#6a6a6a" stroke-width="0.6"/>
<text x="0.00" y="0.00" font-size="4.8" text-anchor="end" font-weight="bold" fill="#111" stroke-width="0.16" transform="translate(172.50 351.13) scale(0.88 1)">4</text>
<line x1="174.30" y1="339.90" x2="175.60" y2="339.90" stroke="#6a6a6a" stroke-width="0.6"/>
<text x="0.00" y="0.00" font-size="4.8" text-anchor="end" font-weight="bold" fill="#111" stroke-width="0.16" transform="translate(172.50 341.65) scale(0.88 1)">5</text>
<text x="0.00" y="0.00" font-size="4.9" text-anchor="middle" font-weight="bold" fill="#111" stroke-width="0.18" transform="translate(138.00 395.55) scale(0.88 1)">-2000</text>
<text x="0.00" y="0.00" font-size="4.9" text-anchor="middle" font-weight="bold" fill="#111" stroke-width="0.18" transform="translate(157.00 395.55) scale(0.88 1)">-1000</text>
<text x="0.00" y="0.00" font-size="4.9" text-anchor="middle" font-weight="bold" fill="#111" stroke-width="0.18" transform="translate(176.20 395.55) scale(0.88 1)">TSS</text>
<text x="0.00" y="0.00" font-size="4.9" text-anchor="middle" font-weight="bold" fill="#111" stroke-width="0.18" transform="translate(194.80 395.55) scale(0.88 1)">1000</text>
<text x="0.00" y="0.00" font-size="4.9" text-anchor="middle" font-weight="bold" fill="#111" stroke-width="0.18" transform="translate(213.00 395.55) scale(0.88 1)">2000</text>
<path d="M155.50 371.25 L170.00 369.25 L193.00 376.75" stroke="#34449a" stroke-width="1.15" fill="none" stroke-linejoin="round"/>
<rect x="154.60" y="370.35" width="1.80" height="1.80" fill="#34449a"/>
<rect x="169.10" y="368.35" width="1.80" height="1.80" fill="#34449a"/>
<rect x="192.10" y="375.85" width="1.80" height="1.80" fill="#34449a"/>
<circle cx="157.20" cy="382.30" r="1.1" fill="#d0202a"/>
<circle cx="159.50" cy="382.30" r="1.1" fill="#d0202a"/>
<text x="37.90" y="271.60" font-size="5.35" text-anchor="middle" font-weight="bold" fill="#111" stroke-width="0.18" transform="rotate(-90 37.9 271.6)">Relative enrichment</text>
<text x="38.20" y="363.80" font-size="5.55" text-anchor="middle" font-weight="bold" fill="#111" stroke-width="0.2" transform="rotate(-90 38.2 363.8)">Relative enrichment</text>
<rect x="108.75" y="310.00" width="43.25" height="23.75" fill="#fff" stroke="#555" stroke-width="0.7"/>
<line x1="110.50" y1="313.80" x2="118.80" y2="313.80" stroke="#34449a" stroke-width="1.0"/>
<rect x="113.70" y="312.90" width="1.80" height="1.80" fill="#34449a"/>
<text x="120.00" y="315.60" font-size="4.8" text-anchor="start" font-weight="bold" fill="#111" stroke-width="0.16">TCF3 binding</text>
<circle cx="114.30" cy="321.75" r="1.3" fill="#d0202a"/>
<text x="121.30" y="323.50" font-size="4.8" text-anchor="start" font-weight="bold" fill="#111" stroke-width="0.16">6 bp cons.</text>
<path d="M112.80 330.80 L115.80 330.80 L114.30 328.10 Z" fill="#d0202a"/>
<text x="121.30" y="331.30" font-size="4.8" text-anchor="start" font-weight="bold" fill="#111" stroke-width="0.16">9 bp cons.</text>
<text x="248.30" y="235.20" font-size="13.2" text-anchor="start" font-weight="bold" fill="#000" stroke-width="0.35">I</text>
<line x1="267.50" y1="333.65" x2="411.60" y2="333.65" stroke="#cfcfcf" stroke-width="0.6"/>
<line x1="267.50" y1="318.00" x2="411.60" y2="318.00" stroke="#cfcfcf" stroke-width="0.6"/>
<line x1="267.50" y1="302.35" x2="411.60" y2="302.35" stroke="#cfcfcf" stroke-width="0.6"/>
<line x1="267.50" y1="286.70" x2="411.60" y2="286.70" stroke="#cfcfcf" stroke-width="0.6"/>
<line x1="267.50" y1="271.05" x2="411.60" y2="271.05" stroke="#cfcfcf" stroke-width="0.6"/>
<line x1="267.50" y1="255.40" x2="411.60" y2="255.40" stroke="#8a8a8a" stroke-width="1.1"/>
<line x1="411.60" y1="255.40" x2="411.60" y2="349.30" stroke="#8a8a8a" stroke-width="0.8"/>
<line x1="279.30" y1="255.40" x2="279.30" y2="379.50" stroke="#8a8a8a" stroke-width="0.7"/>
<line x1="323.60" y1="255.40" x2="323.60" y2="379.50" stroke="#8a8a8a" stroke-width="0.7"/>
<line x1="367.50" y1="255.40" x2="367.50" y2="379.50" stroke="#8a8a8a" stroke-width="0.7"/>
<line x1="267.50" y1="255.40" x2="267.50" y2="349.30" stroke="#3a3a3a" stroke-width="1.0"/>
<line x1="267.50" y1="349.30" x2="411.60" y2="349.30" stroke="#3a3a3a" stroke-width="1.0"/>
<line x1="265.70" y1="349.30" x2="267.50" y2="349.30" stroke="#3a3a3a" stroke-width="0.7"/>
<text x="264.20" y="351.10" font-size="5.0" text-anchor="end" font-weight="bold" fill="#111" stroke-width="0.18">0</text>
<line x1="265.70" y1="333.65" x2="267.50" y2="333.65" stroke="#3a3a3a" stroke-width="0.7"/>
<text x="264.20" y="335.45" font-size="5.0" text-anchor="end" font-weight="bold" fill="#111" stroke-width="0.18">10</text>
<line x1="265.70" y1="318.00" x2="267.50" y2="318.00" stroke="#3a3a3a" stroke-width="0.7"/>
<text x="264.20" y="319.80" font-size="5.0" text-anchor="end" font-weight="bold" fill="#111" stroke-width="0.18">20</text>
<line x1="265.70" y1="302.35" x2="267.50" y2="302.35" stroke="#3a3a3a" stroke-width="0.7"/>
<text x="264.20" y="304.15" font-size="5.0" text-anchor="end" font-weight="bold" fill="#111" stroke-width="0.18">30</text>
<line x1="265.70" y1="286.70" x2="267.50" y2="286.70" stroke="#3a3a3a" stroke-width="0.7"/>
<text x="264.20" y="288.50" font-size="5.0" text-anchor="end" font-weight="bold" fill="#111" stroke-width="0.18">40</text>
<line x1="265.70" y1="271.05" x2="267.50" y2="271.05" stroke="#3a3a3a" stroke-width="0.7"/>
<text x="264.20" y="272.85" font-size="5.0" text-anchor="end" font-weight="bold" fill="#111" stroke-width="0.18">50</text>
<line x1="265.70" y1="255.40" x2="267.50" y2="255.40" stroke="#3a3a3a" stroke-width="0.7"/>
<text x="264.20" y="257.20" font-size="5.0" text-anchor="end" font-weight="bold" fill="#111" stroke-width="0.18">60</text>
<rect x="270.80" y="349.14" width="5.00" height="0.16" fill="#9c9cd8" stroke="#1e1e5a" stroke-width="0.6"/>
<text x="273.30" y="344.40" font-size="5.2" text-anchor="middle" font-weight="bold" fill="#111" stroke-width="0.18">0.1</text>
<rect x="282.30" y="347.89" width="5.00" height="1.41" fill="#9c9cd8" stroke="#1e1e5a" stroke-width="0.6"/>
<text x="284.80" y="344.40" font-size="5.2" text-anchor="middle" font-weight="bold" fill="#111" stroke-width="0.18">0.9</text>
<rect x="293.00" y="348.52" width="5.00" height="0.78" fill="#9c9cd8" stroke="#1e1e5a" stroke-width="0.6"/>
<text x="295.50" y="344.40" font-size="5.2" text-anchor="middle" font-weight="bold" fill="#111" stroke-width="0.18">0.5</text>
<rect x="303.90" y="347.89" width="5.00" height="1.41" fill="#9c9cd8" stroke="#1e1e5a" stroke-width="0.6"/>
<text x="306.40" y="344.40" font-size="5.2" text-anchor="middle" font-weight="bold" fill="#111" stroke-width="0.18">0.9</text>
<rect x="314.80" y="348.05" width="5.00" height="1.25" fill="#9c9cd8" stroke="#1e1e5a" stroke-width="0.6"/>
<text x="317.30" y="344.40" font-size="5.2" text-anchor="middle" font-weight="bold" fill="#111" stroke-width="0.18">0.8</text>
<rect x="326.40" y="347.74" width="5.00" height="1.56" fill="#9c9cd8" stroke="#1e1e5a" stroke-width="0.6"/>
<text x="328.90" y="344.34" font-size="5.2" text-anchor="middle" font-weight="bold" fill="#111" stroke-width="0.18">1.0</text>
<rect x="337.60" y="311.11" width="5.00" height="38.19" fill="#9c9cd8" stroke="#1e1e5a" stroke-width="0.6"/>
<rect x="337.50" y="310.91" width="5.20" height="1.40" fill="#1e1e5a"/>
<text x="340.10" y="307.71" font-size="5.2" text-anchor="middle" font-weight="bold" fill="#111" stroke-width="0.18">24.4</text>
<path d="M338.85 298.36 V300.66 M337.85 298.94 L339.85 300.09 M337.85 300.09 L339.85 298.94" stroke="#111" stroke-width="0.65"/>
<path d="M341.35 298.36 V300.66 M340.35 298.94 L342.35 300.09 M340.35 300.09 L342.35 298.94" stroke="#111" stroke-width="0.65"/>
<rect x="348.50" y="348.36" width="5.00" height="0.94" fill="#9c9cd8" stroke="#1e1e5a" stroke-width="0.6"/>
<text x="351.00" y="344.40" font-size="5.2" text-anchor="middle" font-weight="bold" fill="#111" stroke-width="0.18">0.6</text>
<path d="M351.00 335.05 V337.35 M350.00 335.63 L352.00 336.78 M350.00 336.78 L352.00 335.63" stroke="#111" stroke-width="0.65"/>
<rect x="360.30" y="273.87" width="5.00" height="75.43" fill="#9c9cd8" stroke="#1e1e5a" stroke-width="0.6"/>
<line x1="362.80" y1="283.57" x2="362.80" y2="264.16" stroke="#222" stroke-width="0.6"/>
<line x1="361.50" y1="264.16" x2="364.10" y2="264.16" stroke="#222" stroke-width="0.6"/>
<line x1="361.50" y1="283.57" x2="364.10" y2="283.57" stroke="#222" stroke-width="0.6"/>
<text x="362.80" y="261.76" font-size="5.2" text-anchor="middle" font-weight="bold" fill="#111" stroke-width="0.18">48.2</text>
<path d="M361.55 252.41 V254.71 M360.55 252.99 L362.55 254.14 M360.55 254.14 L362.55 252.99" stroke="#111" stroke-width="0.65"/>
<path d="M364.05 252.41 V254.71 M363.05 252.99 L365.05 254.14 M363.05 254.14 L365.05 252.99" stroke="#111" stroke-width="0.65"/>
<rect x="371.10" y="346.95" width="5.00" height="2.35" fill="#9c9cd8" stroke="#1e1e5a" stroke-width="0.6"/>
<text x="373.60" y="343.55" font-size="5.2" text-anchor="middle" font-weight="bold" fill="#111" stroke-width="0.18">1.5</text>
<rect x="382.40" y="347.42" width="5.00" height="1.88" fill="#9c9cd8" stroke="#1e1e5a" stroke-width="0.6"/>
<text x="384.90" y="344.02" font-size="5.2" text-anchor="middle" font-weight="bold" fill="#111" stroke-width="0.18">1.2</text>
<path d="M384.90 334.67 V336.97 M383.90 335.25 L385.90 336.40 M383.90 336.40 L385.90 335.25" stroke="#111" stroke-width="0.65"/>
<rect x="393.50" y="345.70" width="5.00" height="3.60" fill="#9c9cd8" stroke="#1e1e5a" stroke-width="0.6"/>
<text x="396.00" y="342.30" font-size="5.2" text-anchor="middle" font-weight="bold" fill="#111" stroke-width="0.18">2.3</text>
<path d="M394.75 332.95 V335.25 M393.75 333.53 L395.75 334.68 M393.75 334.68 L395.75 333.53" stroke="#111" stroke-width="0.65"/>
<path d="M397.25 332.95 V335.25 M396.25 333.53 L398.25 334.68 M396.25 334.68 L398.25 333.53" stroke="#111" stroke-width="0.65"/>
<rect x="404.70" y="337.25" width="5.00" height="12.05" fill="#9c9cd8" stroke="#1e1e5a" stroke-width="0.6"/>
<text x="407.20" y="333.85" font-size="5.2" text-anchor="middle" font-weight="bold" fill="#111" stroke-width="0.18">7.7</text>
<path d="M405.95 324.50 V326.80 M404.95 325.07 L406.95 326.22 M404.95 326.22 L406.95 325.07" stroke="#111" stroke-width="0.65"/>
<path d="M408.45 324.50 V326.80 M407.45 325.07 L409.45 326.22 M407.45 326.22 L409.45 325.07" stroke="#111" stroke-width="0.65"/>
<text x="273.30" y="359.00" font-size="5.4" text-anchor="middle" font-weight="bold" fill="#111" stroke-width="0.18">&#8211;</text>
<text x="284.80" y="359.00" font-size="5.4" text-anchor="middle" font-weight="bold" fill="#111" stroke-width="0.18">&#8211;</text>
<text x="295.50" y="359.00" font-size="5.4" text-anchor="middle" font-weight="bold" fill="#111" stroke-width="0.18">+</text>
<text x="306.40" y="359.00" font-size="5.4" text-anchor="middle" font-weight="bold" fill="#111" stroke-width="0.18">&#8211;</text>
<text x="317.30" y="359.00" font-size="5.4" text-anchor="middle" font-weight="bold" fill="#111" stroke-width="0.18">+</text>
<text x="328.90" y="359.00" font-size="5.4" text-anchor="middle" font-weight="bold" fill="#111" stroke-width="0.18">&#8211;</text>
<text x="340.10" y="359.00" font-size="5.4" text-anchor="middle" font-weight="bold" fill="#111" stroke-width="0.18">+</text>
<text x="351.00" y="359.00" font-size="5.4" text-anchor="middle" font-weight="bold" fill="#111" stroke-width="0.18">&#8211;</text>
<text x="362.80" y="359.00" font-size="5.4" text-anchor="middle" font-weight="bold" fill="#111" stroke-width="0.18">+</text>
<text x="373.60" y="359.00" font-size="5.4" text-anchor="middle" font-weight="bold" fill="#111" stroke-width="0.18">&#8211;</text>
<text x="384.90" y="359.00" font-size="5.4" text-anchor="middle" font-weight="bold" fill="#111" stroke-width="0.18">+</text>
<text x="396.00" y="359.00" font-size="5.4" text-anchor="middle" font-weight="bold" fill="#111" stroke-width="0.18">&#8211;</text>
<text x="407.20" y="359.00" font-size="5.4" text-anchor="middle" font-weight="bold" fill="#111" stroke-width="0.18">+</text>
<text x="273.30" y="367.60" font-size="5.4" text-anchor="middle" font-weight="bold" fill="#111" stroke-width="0.18">&#8211;</text>
<text x="284.80" y="367.60" font-size="5.4" text-anchor="middle" font-weight="bold" fill="#111" stroke-width="0.18">&#8211;</text>
<text x="295.50" y="367.60" font-size="5.4" text-anchor="middle" font-weight="bold" fill="#111" stroke-width="0.18">&#8211;</text>
<text x="306.40" y="367.60" font-size="5.4" text-anchor="middle" font-weight="bold" fill="#111" stroke-width="0.18">+</text>
<text x="317.30" y="367.60" font-size="5.4" text-anchor="middle" font-weight="bold" fill="#111" stroke-width="0.18">+</text>
<text x="328.90" y="367.60" font-size="5.4" text-anchor="middle" font-weight="bold" fill="#111" stroke-width="0.18">&#8211;</text>
<text x="340.10" y="367.60" font-size="5.4" text-anchor="middle" font-weight="bold" fill="#111" stroke-width="0.18">&#8211;</text>
<text x="351.00" y="367.60" font-size="5.4" text-anchor="middle" font-weight="bold" fill="#111" stroke-width="0.18">+</text>
<text x="362.80" y="367.60" font-size="5.4" text-anchor="middle" font-weight="bold" fill="#111" stroke-width="0.18">+</text>
<text x="373.60" y="367.60" font-size="5.4" text-anchor="middle" font-weight="bold" fill="#111" stroke-width="0.18">&#8211;</text>
<text x="384.90" y="367.60" font-size="5.4" text-anchor="middle" font-weight="bold" fill="#111" stroke-width="0.18">&#8211;</text>
<text x="396.00" y="367.60" font-size="5.4" text-anchor="middle" font-weight="bold" fill="#111" stroke-width="0.18">+</text>
<text x="407.20" y="367.60" font-size="5.4" text-anchor="middle" font-weight="bold" fill="#111" stroke-width="0.18">+</text>
<text x="273.30" y="376.00" font-size="5.4" text-anchor="middle" font-weight="bold" fill="#111" stroke-width="0.18">&#8211;</text>
<text x="262.20" y="359.00" font-size="5.8" text-anchor="end" font-weight="bold" fill="#111" stroke-width="0.2">&#946;-Catenin</text>
<text x="262.20" y="367.70" font-size="5.8" text-anchor="end" font-weight="bold" fill="#111" stroke-width="0.2">TCF3</text>
<text x="262.20" y="376.00" font-size="5.8" text-anchor="end" font-weight="bold" fill="#111" stroke-width="0.2">Reporter</text>
<text x="301.00" y="376.00" font-size="5.6" text-anchor="middle" font-weight="bold" fill="#111" stroke-width="0.2">FOP-flash</text>
<text x="345.40" y="376.00" font-size="5.6" text-anchor="middle" font-weight="bold" fill="#111" stroke-width="0.2">TOP-flash</text>
<text x="390.30" y="376.00" font-size="5.6" text-anchor="middle" font-weight="bold" fill="#111" stroke-width="0.2">Axin2-Luc</text>
<rect x="0" y="0" width="520" height="1.1" fill="#8a8a8a"/><rect x="0" y="0" width="1.2" height="408" fill="#787878"/><rect x="518.8" y="0" width="1.2" height="408" fill="#9a9a9a"/><rect x="0" y="406.7" width="520" height="1.3" fill="#858585"/>
</svg>
</body></html>
